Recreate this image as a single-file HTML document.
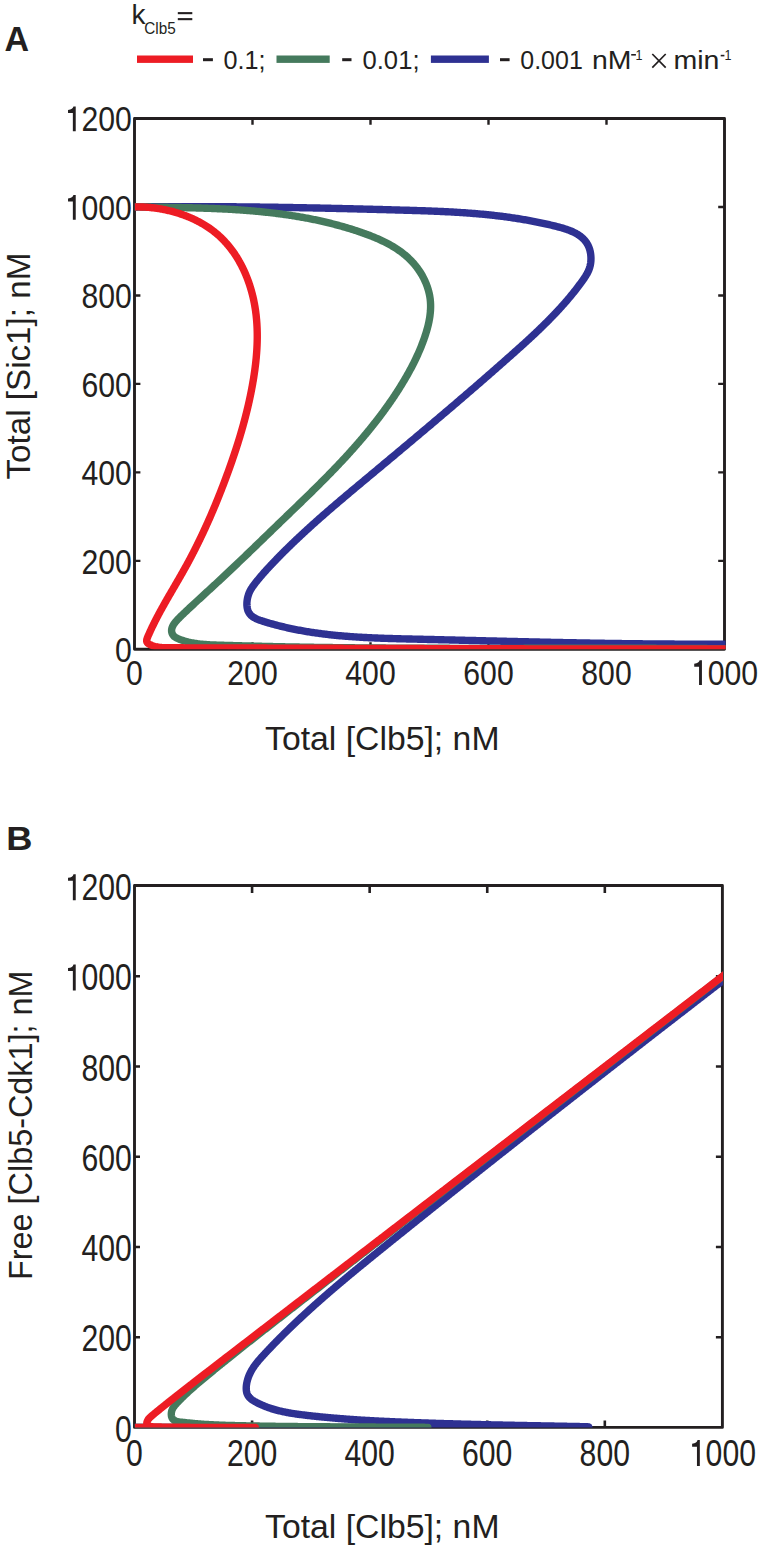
<!DOCTYPE html>
<html><head><meta charset="utf-8"><style>html,body{margin:0;padding:0;background:#fff;}svg{display:block;}</style></head><body>
<svg width="758" height="1547" viewBox="0 0 758 1547">
<rect width="758" height="1547" fill="#fff"/>
<defs><clipPath id="ca"><rect x="134.5" y="118.5" width="591.1" height="530.8"/></clipPath><clipPath id="cb"><rect x="134.5" y="885.5" width="588.5" height="541.9"/></clipPath></defs>
<path d="M134.5 118.5H724.5V649.3H134.5Z" fill="none" stroke="#231f20" stroke-width="2.9" stroke-linejoin="round"/>
<path d="M252.50 118.5v6.3M252.50 649.3v-7M370.50 118.5v6.3M370.50 649.3v-7M488.50 118.5v6.3M488.50 649.3v-7M606.50 118.5v6.3M606.50 649.3v-7M134.5 560.83h5.9M724.5 560.83h-6.3M134.5 472.37h5.9M724.5 472.37h-6.3M134.5 383.90h5.9M724.5 383.90h-6.3M134.5 295.43h5.9M724.5 295.43h-6.3M134.5 206.97h5.9M724.5 206.97h-6.3" stroke="#231f20" stroke-width="2.4" fill="none"/>
<g clip-path="url(#ca)" fill="none" stroke-width="7.4" stroke-linejoin="round">
<path d="M134.54 206.96L135.75 206.94L136.96 206.93L138.17 206.91L139.39 206.90L140.60 206.88L141.81 206.87L143.02 206.86L144.24 206.85L145.45 206.83L146.67 206.82L147.88 206.81L149.10 206.80L150.31 206.79L151.53 206.78L152.74 206.77L153.96 206.76L155.18 206.75L156.39 206.74L157.61 206.73L158.83 206.73L160.05 206.72L161.26 206.71L162.48 206.70L163.70 206.70L164.92 206.69L166.14 206.68L167.36 206.68L168.58 206.67L169.79 206.67L171.01 206.66L172.23 206.66L173.46 206.65L174.68 206.65L175.90 206.64L177.12 206.64L178.34 206.64L179.56 206.63L180.78 206.63L182.00 206.63L183.23 206.63L184.45 206.63L185.67 206.63L186.89 206.62L188.12 206.62L189.34 206.62L190.56 206.62L191.79 206.62L193.01 206.62L194.23 206.63L195.46 206.63L196.68 206.63L197.91 206.63L199.13 206.63L200.36 206.63L201.58 206.64L202.81 206.64L204.03 206.64L205.26 206.65L206.48 206.65L207.71 206.65L208.94 206.66L210.16 206.66L211.39 206.67L212.61 206.67L213.84 206.68L215.07 206.68L216.30 206.69L217.52 206.70L218.75 206.70L219.98 206.71L221.20 206.72L222.43 206.73L223.66 206.73L224.89 206.74L226.12 206.75L227.34 206.76L228.57 206.77L229.80 206.78L231.03 206.78L232.26 206.79L233.49 206.80L234.72 206.81L235.94 206.82L237.17 206.84L238.40 206.85L239.63 206.86L240.86 206.87L242.09 206.88L243.32 206.89L244.55 206.90L245.78 206.92L247.01 206.93L248.24 206.94L249.47 206.95L250.70 206.97L251.93 206.98L253.16 207.00L254.39 207.01L255.62 207.02L256.85 207.04L258.08 207.05L259.31 207.07L260.54 207.08L261.77 207.10L263.00 207.12L264.23 207.13L265.47 207.15L266.70 207.16L267.93 207.18L269.16 207.20L270.39 207.21L271.62 207.23L272.85 207.25L274.08 207.27L275.31 207.29L276.54 207.30L277.77 207.32L279.01 207.34L280.24 207.36L281.47 207.38L282.70 207.40L283.93 207.42L285.16 207.44L286.39 207.46L287.62 207.48L288.85 207.50L290.08 207.52L291.32 207.54L292.55 207.56L293.78 207.58L295.01 207.60L296.24 207.62L297.47 207.65L298.70 207.67L299.93 207.69L301.16 207.71L302.39 207.74L303.63 207.76L304.86 207.78L306.09 207.80L307.32 207.83L308.55 207.85L309.78 207.87L311.01 207.90L312.24 207.92L313.47 207.95L314.70 207.97L315.93 208.00L317.16 208.02L318.39 208.05L319.62 208.07L320.85 208.10L322.08 208.12L323.31 208.15L324.54 208.17L325.77 208.20L327.00 208.23L328.23 208.25L329.46 208.28L330.69 208.31L331.92 208.33L333.15 208.36L334.37 208.39L335.60 208.42L336.83 208.44L338.06 208.47L339.29 208.50L340.52 208.53L341.75 208.56L342.97 208.58L344.20 208.61L345.43 208.64L346.66 208.67L347.89 208.70L349.11 208.73L350.34 208.76L351.57 208.79L352.80 208.82L354.02 208.85L355.25 208.88L356.48 208.91L357.70 208.94L358.93 208.97L360.16 209.00L361.38 209.03L362.61 209.06L363.83 209.09L365.06 209.12L366.28 209.15L367.51 209.18L368.73 209.21L369.96 209.25L371.18 209.28L372.41 209.31L373.63 209.34L374.86 209.37L376.08 209.41L377.31 209.44L378.53 209.47L379.75 209.50L380.98 209.54L382.20 209.57L383.42 209.60L384.64 209.64L385.87 209.67L387.09 209.70L388.31 209.74L389.53 209.77L390.75 209.80L391.97 209.84L393.20 209.87L394.42 209.90L395.64 209.94L396.86 209.97L398.08 210.01L399.30 210.04L400.52 210.08L401.74 210.11L402.96 210.15L404.17 210.18L405.39 210.22L406.61 210.25L407.83 210.29L409.05 210.32L410.27 210.36L411.48 210.39L412.70 210.43L413.92 210.47L415.13 210.51L416.35 210.54L417.57 210.58L418.78 210.62L420.00 210.66L421.22 210.70L422.43 210.74L423.65 210.78L424.86 210.82L426.08 210.87L427.30 210.91L428.51 210.96L429.73 211.00L430.94 211.05L432.16 211.09L433.37 211.14L434.59 211.19L435.80 211.24L437.02 211.29L438.23 211.34L439.44 211.40L440.66 211.45L441.87 211.50L443.09 211.56L444.30 211.62L445.52 211.68L446.73 211.74L447.94 211.80L449.16 211.86L450.37 211.93L451.59 211.99L452.80 212.06L454.02 212.13L455.23 212.20L456.44 212.27L457.66 212.34L458.87 212.42L460.09 212.49L461.30 212.57L462.52 212.65L463.73 212.73L464.95 212.81L466.16 212.90L467.38 212.99L468.59 213.07L469.80 213.16L471.02 213.26L472.24 213.35L473.45 213.45L474.67 213.55L475.88 213.65L477.10 213.75L478.31 213.85L479.53 213.96L480.74 214.07L481.96 214.18L483.18 214.30L484.39 214.41L485.61 214.53L486.83 214.65L488.04 214.77L489.26 214.90L490.48 215.03L491.70 215.16L492.91 215.29L494.13 215.43L495.35 215.56L496.57 215.70L497.79 215.85L499.01 215.99L500.23 216.14L501.44 216.29L502.66 216.45L503.88 216.60L505.10 216.76L506.33 216.93L507.55 217.09L508.77 217.26L509.99 217.43L511.21 217.61L512.43 217.79L513.65 217.97L514.88 218.15L516.10 218.34L517.32 218.53L518.55 218.72L519.77 218.92L520.99 219.12L522.22 219.32L523.44 219.53L524.67 219.74L525.90 219.95L527.12 220.17L528.35 220.39L529.57 220.61L530.80 220.84L532.03 221.07L533.26 221.30L534.49 221.54L535.72 221.78L536.94 222.03L538.17 222.28L539.40 222.53L540.64 222.79L541.87 223.05L543.10 223.31L544.33 223.58L545.56 223.85L546.80 224.13L548.03 224.41L549.26 224.69L550.50 224.98L551.73 225.27L552.97 225.57L554.20 225.87L555.44 226.18L556.67 226.49L557.91 226.81L559.13 227.13L560.36 227.47L561.57 227.81L562.78 228.16L563.98 228.53L565.17 228.91L566.35 229.30L567.52 229.70L568.67 230.13L569.81 230.56L570.93 231.02L572.03 231.49L573.12 231.98L574.18 232.50L575.23 233.03L576.25 233.59L577.25 234.17L578.22 234.77L579.17 235.40L580.09 236.06L580.98 236.74L581.84 237.45L582.67 238.20L583.47 238.97L584.23 239.77L584.96 240.60L585.65 241.47L586.31 242.37L586.92 243.31L587.50 244.28L588.04 245.29L588.53 246.33L588.98 247.42L589.39 248.54L589.75 249.71L590.06 250.90L590.33 252.12L590.55 253.36L590.72 254.63L590.85 255.91L590.93 257.19L590.96 258.49L590.94 259.79L590.87 261.09L590.75 262.38L590.58 263.66L590.36 264.92L590.08 266.17L589.76 267.39L589.38 268.59L588.95 269.76L588.47 270.90L587.95 272.02L587.40 273.11L586.80 274.19L586.18 275.24L585.53 276.29L584.86 277.31L584.17 278.33L583.47 279.34L582.76 280.34L582.05 281.34L581.33 282.34L580.61 283.33L579.88 284.32L579.15 285.30L578.41 286.28L577.67 287.25L576.92 288.23L576.17 289.19L575.42 290.16L574.66 291.12L573.90 292.08L573.14 293.03L572.37 293.99L571.60 294.93L570.82 295.88L570.04 296.82L569.26 297.76L568.47 298.69L567.68 299.62L566.88 300.55L566.09 301.48L565.28 302.40L564.48 303.32L563.67 304.24L562.86 305.15L562.04 306.06L561.23 306.97L560.41 307.87L559.58 308.78L558.75 309.68L557.92 310.57L557.09 311.47L556.25 312.36L555.42 313.25L554.57 314.14L553.73 315.02L552.88 315.90L552.03 316.78L551.18 317.66L550.33 318.53L549.47 319.41L548.61 320.28L547.75 321.15L546.88 322.01L546.02 322.88L545.15 323.74L544.28 324.60L543.40 325.46L542.53 326.31L541.65 327.17L540.77 328.02L539.89 328.87L539.01 329.72L538.12 330.57L537.23 331.41L536.35 332.26L535.46 333.10L534.56 333.94L533.67 334.78L532.77 335.62L531.88 336.46L530.98 337.29L530.08 338.12L529.18 338.96L528.28 339.79L527.37 340.62L526.47 341.45L525.56 342.27L524.66 343.10L523.75 343.93L522.84 344.75L521.93 345.58L521.02 346.40L520.11 347.22L519.20 348.04L518.28 348.86L517.37 349.68L516.46 350.50L515.54 351.32L514.63 352.13L513.71 352.95L512.79 353.77L511.88 354.58L510.96 355.40L510.04 356.21L509.12 357.03L508.21 357.84L507.29 358.65L506.37 359.47L505.45 360.28L504.53 361.09L503.61 361.91L502.69 362.72L501.77 363.53L500.85 364.34L499.93 365.15L499.01 365.96L498.09 366.77L497.17 367.58L496.25 368.39L495.33 369.20L494.41 370.01L493.48 370.81L492.56 371.62L491.64 372.43L490.72 373.24L489.79 374.04L488.87 374.85L487.95 375.65L487.02 376.46L486.10 377.27L485.18 378.07L484.25 378.88L483.33 379.68L482.40 380.48L481.48 381.29L480.55 382.09L479.63 382.89L478.70 383.70L477.78 384.50L476.85 385.30L475.92 386.10L475.00 386.91L474.07 387.71L473.14 388.51L472.22 389.31L471.29 390.11L470.36 390.91L469.43 391.71L468.51 392.51L467.58 393.31L466.65 394.11L465.72 394.91L464.79 395.70L463.86 396.50L462.94 397.30L462.01 398.10L461.08 398.90L460.15 399.69L459.22 400.49L458.29 401.29L457.36 402.08L456.43 402.88L455.50 403.68L454.57 404.47L453.64 405.27L452.70 406.06L451.77 406.86L450.84 407.65L449.91 408.45L448.98 409.24L448.05 410.04L447.11 410.83L446.18 411.62L445.25 412.42L444.32 413.21L443.38 414.00L442.45 414.80L441.52 415.59L440.58 416.38L439.65 417.17L438.72 417.97L437.78 418.76L436.85 419.55L435.91 420.34L434.98 421.13L434.05 421.92L433.11 422.72L432.18 423.51L431.24 424.30L430.31 425.09L429.37 425.88L428.44 426.67L427.50 427.46L426.56 428.25L425.63 429.04L424.69 429.83L423.76 430.62L422.82 431.41L421.88 432.20L420.95 432.98L420.01 433.77L419.07 434.56L418.14 435.35L417.20 436.14L416.26 436.93L415.33 437.72L414.39 438.50L413.45 439.29L412.51 440.08L411.57 440.87L410.64 441.66L409.70 442.44L408.76 443.23L407.82 444.02L406.88 444.81L405.94 445.59L405.01 446.38L404.07 447.17L403.13 447.95L402.19 448.74L401.25 449.53L400.31 450.31L399.37 451.10L398.43 451.89L397.49 452.67L396.55 453.46L395.61 454.25L394.67 455.03L393.73 455.82L392.79 456.60L391.85 457.39L390.91 458.18L389.97 458.96L389.03 459.75L388.09 460.53L387.15 461.32L386.21 462.10L385.27 462.89L384.32 463.68L383.38 464.46L382.44 465.25L381.50 466.03L380.56 466.82L379.62 467.60L378.68 468.39L377.73 469.17L376.79 469.96L375.85 470.74L374.91 471.53L373.97 472.32L373.02 473.10L372.08 473.89L371.14 474.67L370.20 475.46L369.26 476.24L368.31 477.03L367.37 477.81L366.43 478.60L365.49 479.38L364.54 480.17L363.60 480.96L362.66 481.74L361.72 482.53L360.77 483.31L359.83 484.10L358.89 484.89L357.95 485.67L357.01 486.46L356.06 487.25L355.12 488.04L354.18 488.82L353.24 489.61L352.30 490.40L351.36 491.19L350.42 491.98L349.48 492.77L348.54 493.56L347.60 494.35L346.67 495.14L345.73 495.93L344.79 496.72L343.85 497.52L342.92 498.31L341.98 499.10L341.04 499.90L340.11 500.69L339.18 501.49L338.24 502.28L337.31 503.08L336.37 503.87L335.44 504.67L334.51 505.47L333.58 506.27L332.65 507.07L331.72 507.87L330.79 508.67L329.86 509.47L328.93 510.27L328.01 511.08L327.08 511.88L326.16 512.68L325.23 513.49L324.31 514.30L323.39 515.10L322.46 515.91L321.54 516.72L320.62 517.53L319.71 518.34L318.79 519.15L317.87 519.97L316.95 520.78L316.04 521.59L315.12 522.41L314.21 523.23L313.30 524.04L312.39 524.86L311.48 525.68L310.57 526.50L309.66 527.33L308.76 528.15L307.85 528.97L306.95 529.80L306.04 530.63L305.14 531.46L304.24 532.28L303.34 533.12L302.45 533.95L301.55 534.78L300.65 535.61L299.76 536.45L298.87 537.29L297.98 538.13L297.09 538.97L296.20 539.81L295.31 540.65L294.43 541.49L293.54 542.34L292.66 543.19L291.78 544.03L290.90 544.88L290.02 545.73L289.15 546.59L288.27 547.44L287.40 548.30L286.53 549.16L285.66 550.01L284.79 550.87L283.92 551.74L283.06 552.60L282.20 553.47L281.33 554.33L280.47 555.20L279.62 556.07L278.76 556.95L277.91 557.82L277.05 558.70L276.20 559.57L275.36 560.45L274.51 561.33L273.66 562.22L272.82 563.10L271.98 563.99L271.14 564.88L270.30 565.77L269.47 566.66L268.64 567.56L267.81 568.45L266.98 569.35L266.16 570.26L265.34 571.16L264.52 572.07L263.71 572.98L262.91 573.90L262.11 574.82L261.31 575.74L260.52 576.67L259.73 577.60L258.95 578.53L258.18 579.47L257.41 580.42L256.65 581.37L255.90 582.32L255.16 583.28L254.42 584.25L253.69 585.22L252.97 586.20L252.27 587.20L251.59 588.22L250.94 589.28L250.33 590.37L249.75 591.51L249.22 592.69L248.74 593.93L248.31 595.19L247.93 596.49L247.60 597.81L247.34 599.15L247.13 600.49L246.98 601.83L246.90 603.16L246.88 604.47L246.94 605.76L247.06 607.02L247.26 608.24L247.54 609.42L247.89 610.54L248.32 611.60L248.84 612.59L249.44 613.51L250.11 614.36L250.85 615.16L251.66 615.89L252.53 616.58L253.45 617.21L254.43 617.80L255.45 618.35L256.51 618.86L257.60 619.34L258.72 619.79L259.87 620.22L261.04 620.62L262.22 621.01L263.41 621.39L264.60 621.76L265.80 622.12L266.99 622.48L268.19 622.83L269.38 623.18L270.58 623.52L271.78 623.86L272.97 624.19L274.17 624.52L275.37 624.84L276.57 625.15L277.77 625.46L278.97 625.77L280.17 626.07L281.37 626.37L282.58 626.66L283.78 626.94L284.98 627.23L286.18 627.50L287.39 627.78L288.59 628.04L289.80 628.31L291.00 628.56L292.21 628.82L293.41 629.07L294.62 629.31L295.82 629.55L297.03 629.79L298.24 630.02L299.45 630.25L300.65 630.47L301.86 630.69L303.07 630.91L304.28 631.12L305.49 631.33L306.70 631.53L307.91 631.73L309.12 631.93L310.34 632.12L311.55 632.31L312.76 632.49L313.97 632.67L315.18 632.85L316.40 633.02L317.61 633.19L318.83 633.36L320.04 633.52L321.25 633.68L322.47 633.84L323.68 633.99L324.90 634.14L326.12 634.29L327.33 634.43L328.55 634.57L329.76 634.70L330.98 634.84L332.20 634.97L333.42 635.10L334.63 635.22L335.85 635.34L337.07 635.46L338.29 635.58L339.51 635.69L340.73 635.80L341.95 635.91L343.17 636.01L344.39 636.12L345.61 636.22L346.83 636.31L348.05 636.41L349.27 636.50L350.49 636.59L351.71 636.68L352.93 636.77L354.15 636.85L355.38 636.93L356.60 637.01L357.82 637.09L359.04 637.16L360.27 637.23L361.49 637.30L362.71 637.37L363.93 637.44L365.16 637.51L366.38 637.57L367.61 637.63L368.83 637.69L370.05 637.75L371.28 637.81L372.50 637.86L373.73 637.92L374.95 637.97L376.18 638.02L377.40 638.07L378.62 638.12L379.85 638.16L381.07 638.21L382.30 638.25L383.53 638.29L384.75 638.34L385.98 638.38L387.20 638.42L388.43 638.46L389.65 638.49L390.88 638.53L392.11 638.57L393.33 638.60L394.56 638.64L395.78 638.67L397.01 638.70L398.24 638.74L399.46 638.77L400.69 638.80L401.91 638.83L403.14 638.86L404.37 638.89L405.59 638.92L406.82 638.95L408.05 638.98L409.27 639.01L410.50 639.03L411.72 639.06L412.95 639.09L414.18 639.12L415.40 639.15L416.63 639.17L417.86 639.20L419.08 639.23L420.31 639.26L421.53 639.29L422.76 639.32L423.99 639.34L425.21 639.37L426.44 639.40L427.67 639.43L428.89 639.46L430.12 639.49L431.34 639.52L432.57 639.55L433.80 639.57L435.02 639.60L436.25 639.63L437.47 639.66L438.70 639.69L439.92 639.72L441.15 639.75L442.38 639.78L443.60 639.81L444.83 639.84L446.05 639.87L447.28 639.89L448.50 639.92L449.73 639.95L450.96 639.98L452.18 640.01L453.41 640.04L454.63 640.07L455.86 640.10L457.08 640.13L458.31 640.16L459.53 640.19L460.76 640.22L461.98 640.25L463.21 640.28L464.44 640.31L465.66 640.34L466.89 640.37L468.11 640.40L469.34 640.43L470.56 640.46L471.79 640.49L473.01 640.51L474.24 640.54L475.46 640.57L476.69 640.60L477.91 640.63L479.14 640.66L480.36 640.69L481.59 640.72L482.81 640.75L484.04 640.78L485.26 640.81L486.49 640.84L487.71 640.87L488.94 640.90L490.16 640.93L491.39 640.96L492.61 640.99L493.84 641.02L495.06 641.05L496.29 641.07L497.51 641.10L498.74 641.13L499.96 641.16L501.19 641.19L502.41 641.22L503.64 641.25L504.86 641.28L506.09 641.31L507.31 641.34L508.54 641.36L509.76 641.39L510.99 641.42L512.21 641.45L513.44 641.48L514.66 641.51L515.89 641.54L517.11 641.56L518.34 641.59L519.56 641.62L520.79 641.65L522.01 641.68L523.24 641.70L524.46 641.73L525.69 641.76L526.91 641.79L528.13 641.82L529.36 641.84L530.58 641.87L531.81 641.90L533.03 641.93L534.26 641.95L535.48 641.98L536.71 642.01L537.93 642.03L539.16 642.06L540.38 642.09L541.61 642.12L542.83 642.14L544.06 642.17L545.28 642.20L546.51 642.22L547.73 642.25L548.95 642.27L550.18 642.30L551.40 642.33L552.63 642.35L553.85 642.38L555.08 642.40L556.30 642.43L557.53 642.45L558.75 642.48L559.98 642.50L561.20 642.53L562.43 642.55L563.65 642.58L564.88 642.60L566.10 642.63L567.32 642.65L568.55 642.68L569.77 642.70L571.00 642.72L572.22 642.75L573.45 642.77L574.67 642.79L575.90 642.82L577.12 642.84L578.35 642.86L579.57 642.89L580.80 642.91L582.02 642.93L583.25 642.95L584.47 642.98L585.69 643.00L586.92 643.02L588.14 643.04L589.37 643.06L590.59 643.09L591.82 643.11L593.04 643.13L594.27 643.15L595.49 643.17L596.72 643.19L597.94 643.21L599.17 643.23L600.39 643.25L601.62 643.27L602.84 643.29L604.07 643.31L605.29 643.33L606.52 643.35L607.74 643.37L608.97 643.39L610.19 643.41L611.42 643.43L612.64 643.44L613.87 643.46L615.09 643.48L616.32 643.50L617.54 643.51L618.77 643.53L619.99 643.55L621.22 643.57L622.44 643.58L623.67 643.60L624.89 643.62L626.12 643.63L627.34 643.65L628.57 643.66L629.79 643.68L631.02 643.69L632.24 643.71L633.47 643.72L634.69 643.74L635.92 643.75L637.14 643.77L638.37 643.78L639.59 643.79L640.82 643.81L642.04 643.82L643.27 643.83L644.49 643.85L645.72 643.86L646.94 643.87L648.17 643.88L649.39 643.89L650.62 643.91L651.85 643.92L653.07 643.93L654.30 643.94L655.52 643.95L656.75 643.96L657.97 643.97L659.20 643.98L660.42 643.99L661.65 644.00L662.87 644.01L664.10 644.01L665.33 644.02L666.55 644.03L667.78 644.04L669.00 644.05L670.23 644.05L671.45 644.06L672.68 644.07L673.91 644.07L675.13 644.08L676.36 644.09L677.58 644.09L678.81 644.10L680.04 644.10L681.26 644.11L682.49 644.11L683.71 644.12L684.94 644.12L686.17 644.12L687.39 644.13L688.62 644.13L689.84 644.13L691.07 644.13L692.30 644.14L693.52 644.14L694.75 644.14L695.97 644.14L697.20 644.14L698.43 644.14L699.65 644.14L700.88 644.14L702.11 644.14L703.33 644.14L704.56 644.14L705.79 644.14L707.01 644.14L708.24 644.14L709.47 644.13L710.69 644.13L711.92 644.13L713.14 644.13L714.37 644.12L715.60 644.12L716.83 644.11L718.05 644.11L719.28 644.10L720.51 644.10L721.73 644.09L722.96 644.09L724.19 644.08L725.41 644.08L726.64 644.07L727.87 644.06L729.09 644.05L730.32 644.05L731.55 644.04L732.78 644.03L734.00 644.02L735.23 644.01L736.46 644.00" stroke="#2e3192"/>
<path d="M134.48 206.79L135.58 206.81L136.69 206.83L137.79 206.85L138.90 206.87L140.00 206.89L141.11 206.91L142.21 206.93L143.32 206.94L144.42 206.96L145.53 206.98L146.63 207.00L147.74 207.01L148.84 207.03L149.95 207.05L151.05 207.06L152.16 207.08L153.27 207.10L154.37 207.11L155.48 207.13L156.58 207.15L157.69 207.16L158.80 207.18L159.90 207.20L161.01 207.22L162.12 207.23L163.22 207.25L164.33 207.27L165.44 207.29L166.54 207.30L167.65 207.32L168.76 207.34L169.86 207.36L170.97 207.38L172.08 207.40L173.18 207.42L174.29 207.44L175.40 207.46L176.50 207.48L177.61 207.50L178.72 207.52L179.83 207.54L180.93 207.57L182.04 207.59L183.15 207.61L184.25 207.64L185.36 207.66L186.47 207.69L187.57 207.71L188.68 207.74L189.79 207.77L190.89 207.79L192.00 207.82L193.11 207.85L194.22 207.88L195.32 207.91L196.43 207.94L197.53 207.97L198.64 208.00L199.75 208.04L200.85 208.07L201.96 208.11L203.07 208.14L204.17 208.18L205.28 208.22L206.39 208.25L207.49 208.29L208.60 208.33L209.70 208.38L210.81 208.42L211.91 208.46L213.02 208.50L214.13 208.55L215.23 208.60L216.34 208.64L217.44 208.69L218.55 208.74L219.65 208.79L220.76 208.84L221.86 208.90L222.96 208.95L224.07 209.01L225.17 209.06L226.28 209.12L227.38 209.18L228.48 209.24L229.59 209.30L230.69 209.37L231.79 209.43L232.90 209.50L234.00 209.56L235.10 209.63L236.21 209.70L237.31 209.77L238.41 209.85L239.51 209.92L240.61 210.00L241.72 210.07L242.82 210.15L243.92 210.23L245.02 210.32L246.12 210.40L247.22 210.49L248.32 210.57L249.42 210.66L250.52 210.75L251.62 210.84L252.72 210.94L253.82 211.03L254.92 211.13L256.02 211.23L257.12 211.33L258.21 211.43L259.31 211.54L260.41 211.64L261.51 211.75L262.60 211.86L263.70 211.97L264.80 212.09L265.89 212.20L266.99 212.32L268.09 212.44L269.18 212.56L270.28 212.69L271.37 212.81L272.47 212.94L273.56 213.07L274.66 213.20L275.75 213.34L276.84 213.47L277.94 213.61L279.03 213.75L280.12 213.89L281.21 214.04L282.31 214.19L283.40 214.34L284.49 214.49L285.58 214.64L286.67 214.80L287.76 214.96L288.85 215.12L289.94 215.28L291.03 215.45L292.12 215.62L293.21 215.79L294.29 215.96L295.38 216.14L296.47 216.31L297.56 216.50L298.64 216.68L299.73 216.86L300.82 217.05L301.90 217.24L302.99 217.44L304.07 217.63L305.15 217.83L306.24 218.03L307.32 218.24L308.40 218.44L309.49 218.65L310.57 218.87L311.65 219.08L312.73 219.30L313.81 219.52L314.89 219.74L315.97 219.97L317.05 220.20L318.13 220.43L319.21 220.67L320.29 220.90L321.37 221.14L322.45 221.39L323.52 221.63L324.60 221.88L325.67 222.14L326.75 222.39L327.82 222.65L328.90 222.91L329.97 223.18L331.05 223.45L332.12 223.72L333.19 223.99L334.26 224.27L335.34 224.55L336.41 224.83L337.48 225.12L338.55 225.41L339.62 225.70L340.69 226.00L341.76 226.30L342.82 226.60L343.89 226.91L344.96 227.22L346.02 227.54L347.09 227.85L348.16 228.17L349.22 228.50L350.28 228.82L351.35 229.15L352.41 229.49L353.47 229.83L354.54 230.17L355.60 230.51L356.66 230.86L357.72 231.21L358.78 231.57L359.84 231.93L360.89 232.29L361.95 232.66L363.01 233.03L364.07 233.40L365.12 233.78L366.17 234.17L367.22 234.55L368.27 234.95L369.32 235.34L370.37 235.75L371.41 236.15L372.45 236.57L373.49 236.99L374.52 237.41L375.55 237.84L376.58 238.28L377.60 238.72L378.62 239.17L379.64 239.62L380.65 240.09L381.66 240.56L382.66 241.03L383.66 241.51L384.66 242.00L385.65 242.50L386.63 243.01L387.61 243.52L388.58 244.04L389.55 244.57L390.51 245.11L391.46 245.65L392.41 246.21L393.36 246.77L394.29 247.34L395.22 247.92L396.14 248.51L397.06 249.11L397.96 249.72L398.86 250.34L399.75 250.97L400.64 251.61L401.51 252.26L402.38 252.92L403.24 253.59L404.09 254.27L404.93 254.96L405.76 255.66L406.58 256.37L407.39 257.10L408.19 257.83L408.99 258.58L409.77 259.34L410.54 260.11L411.31 260.89L412.06 261.69L412.80 262.49L413.53 263.31L414.25 264.14L414.95 264.99L415.65 265.84L416.33 266.71L417.00 267.59L417.66 268.48L418.31 269.38L418.94 270.29L419.56 271.20L420.16 272.13L420.75 273.07L421.33 274.02L421.89 274.98L422.44 275.94L422.97 276.91L423.48 277.90L423.98 278.88L424.47 279.88L424.94 280.89L425.39 281.90L425.82 282.91L426.24 283.94L426.64 284.97L427.02 286.01L427.39 287.05L427.73 288.10L428.06 289.15L428.37 290.21L428.66 291.27L428.93 292.33L429.18 293.40L429.42 294.48L429.63 295.56L429.82 296.64L429.99 297.72L430.14 298.81L430.27 299.90L430.37 300.99L430.46 302.08L430.52 303.18L430.57 304.27L430.59 305.37L430.60 306.47L430.59 307.57L430.55 308.67L430.50 309.78L430.44 310.88L430.35 311.98L430.25 313.09L430.13 314.19L430.00 315.29L429.85 316.40L429.69 317.50L429.51 318.60L429.32 319.70L429.11 320.81L428.89 321.91L428.66 323.00L428.41 324.10L428.16 325.20L427.89 326.29L427.61 327.38L427.32 328.47L427.02 329.56L426.71 330.64L426.39 331.73L426.07 332.81L425.73 333.88L425.39 334.96L425.03 336.03L424.68 337.09L424.31 338.15L423.94 339.21L423.56 340.27L423.18 341.32L422.79 342.37L422.39 343.41L421.99 344.45L421.59 345.48L421.18 346.52L420.76 347.54L420.34 348.57L419.92 349.59L419.49 350.61L419.05 351.62L418.61 352.63L418.17 353.64L417.72 354.64L417.26 355.65L416.80 356.64L416.34 357.64L415.87 358.63L415.39 359.62L414.92 360.61L414.43 361.59L413.95 362.57L413.46 363.55L412.96 364.53L412.46 365.50L411.96 366.47L411.45 367.44L410.94 368.40L410.42 369.37L409.90 370.33L409.38 371.29L408.85 372.25L408.32 373.20L407.79 374.16L407.25 375.11L406.71 376.06L406.16 377.01L405.61 377.96L405.06 378.90L404.50 379.85L403.94 380.79L403.38 381.73L402.82 382.67L402.25 383.61L401.68 384.54L401.10 385.48L400.52 386.41L399.94 387.35L399.36 388.28L398.77 389.21L398.18 390.13L397.58 391.06L396.99 391.98L396.39 392.91L395.78 393.83L395.18 394.75L394.57 395.67L393.96 396.59L393.34 397.50L392.73 398.42L392.11 399.33L391.48 400.24L390.86 401.15L390.23 402.06L389.60 402.96L388.97 403.87L388.33 404.77L387.69 405.68L387.05 406.58L386.41 407.48L385.76 408.37L385.11 409.27L384.46 410.17L383.81 411.06L383.15 411.95L382.49 412.84L381.83 413.73L381.17 414.62L380.50 415.51L379.83 416.39L379.16 417.27L378.49 418.16L377.81 419.04L377.14 419.91L376.46 420.79L375.77 421.67L375.09 422.54L374.40 423.41L373.72 424.29L373.03 425.16L372.34 426.02L371.64 426.89L370.95 427.76L370.25 428.62L369.55 429.48L368.85 430.34L368.14 431.20L367.44 432.06L366.73 432.92L366.02 433.77L365.31 434.63L364.60 435.48L363.88 436.33L363.17 437.18L362.45 438.03L361.73 438.87L361.01 439.72L360.29 440.56L359.56 441.41L358.84 442.25L358.11 443.09L357.38 443.92L356.65 444.76L355.92 445.59L355.19 446.43L354.45 447.26L353.72 448.09L352.98 448.92L352.24 449.75L351.50 450.57L350.76 451.40L350.02 452.22L349.27 453.04L348.53 453.86L347.78 454.68L347.04 455.50L346.29 456.31L345.54 457.13L344.79 457.94L344.04 458.75L343.29 459.56L342.54 460.37L341.78 461.18L341.03 461.98L340.27 462.78L339.51 463.59L338.76 464.39L338.00 465.19L337.24 465.99L336.48 466.78L335.72 467.58L334.96 468.37L334.19 469.17L333.43 469.96L332.67 470.75L331.90 471.54L331.14 472.33L330.37 473.12L329.60 473.90L328.83 474.69L328.07 475.47L327.30 476.26L326.53 477.04L325.75 477.82L324.98 478.60L324.21 479.38L323.44 480.16L322.66 480.94L321.89 481.71L321.11 482.49L320.34 483.27L319.56 484.04L318.78 484.81L318.01 485.59L317.23 486.36L316.45 487.13L315.67 487.90L314.89 488.67L314.11 489.45L313.32 490.22L312.54 490.98L311.76 491.75L310.98 492.52L310.19 493.29L309.41 494.06L308.62 494.83L307.83 495.59L307.05 496.36L306.26 497.13L305.47 497.89L304.69 498.66L303.90 499.42L303.11 500.19L302.32 500.96L301.53 501.72L300.74 502.49L299.95 503.25L299.16 504.02L298.36 504.78L297.57 505.55L296.78 506.31L295.98 507.08L295.19 507.84L294.40 508.61L293.60 509.38L292.81 510.14L292.01 510.91L291.22 511.68L290.42 512.44L289.62 513.21L288.83 513.98L288.03 514.75L287.23 515.51L286.43 516.28L285.63 517.05L284.83 517.82L284.04 518.59L283.24 519.36L282.44 520.13L281.64 520.91L280.84 521.68L280.04 522.45L279.23 523.22L278.43 524.00L277.63 524.77L276.83 525.55L276.03 526.32L275.23 527.10L274.42 527.87L273.62 528.65L272.82 529.43L272.02 530.20L271.21 530.98L270.41 531.76L269.61 532.53L268.80 533.31L268.00 534.09L267.20 534.87L266.39 535.64L265.59 536.42L264.78 537.20L263.98 537.98L263.18 538.75L262.37 539.53L261.57 540.31L260.76 541.08L259.96 541.86L259.15 542.64L258.35 543.42L257.55 544.19L256.74 544.97L255.94 545.74L255.13 546.52L254.33 547.30L253.53 548.07L252.72 548.85L251.92 549.62L251.11 550.39L250.31 551.17L249.51 551.94L248.70 552.71L247.90 553.48L247.10 554.26L246.29 555.03L245.49 555.80L244.69 556.57L243.89 557.33L243.08 558.10L242.28 558.87L241.48 559.64L240.68 560.40L239.88 561.17L239.08 561.93L238.28 562.70L237.48 563.46L236.68 564.22L235.88 564.98L235.08 565.74L234.28 566.50L233.48 567.26L232.68 568.01L231.88 568.77L231.09 569.52L230.29 570.28L229.49 571.03L228.69 571.78L227.90 572.53L227.10 573.28L226.31 574.03L225.51 574.78L224.72 575.52L223.92 576.27L223.13 577.01L222.34 577.75L221.55 578.49L220.75 579.23L219.96 579.96L219.17 580.70L218.38 581.43L217.59 582.17L216.80 582.90L216.01 583.63L215.23 584.36L214.44 585.08L213.65 585.81L212.86 586.53L212.08 587.25L211.29 587.98L210.50 588.70L209.72 589.42L208.93 590.14L208.14 590.87L207.35 591.59L206.56 592.31L205.77 593.04L204.97 593.76L204.18 594.49L203.39 595.22L202.59 595.95L201.79 596.68L200.99 597.42L200.19 598.16L199.38 598.90L198.57 599.64L197.76 600.39L196.95 601.13L196.14 601.89L195.32 602.64L194.50 603.40L193.67 604.17L192.84 604.94L192.01 605.71L191.18 606.49L190.34 607.27L189.50 608.06L188.65 608.86L187.80 609.66L186.95 610.46L186.09 611.27L185.22 612.09L184.35 612.92L183.48 613.75L182.60 614.59L181.72 615.43L180.83 616.28L179.95 617.14L179.08 618.01L178.23 618.88L177.39 619.76L176.59 620.64L175.83 621.53L175.11 622.42L174.43 623.31L173.81 624.21L173.26 625.12L172.77 626.02L172.36 626.93L172.02 627.84L171.78 628.75L171.63 629.67L171.58 630.58L171.64 631.49L171.81 632.41L172.09 633.31L172.48 634.18L172.98 635.01L173.58 635.79L174.30 636.50L175.11 637.14L176.02 637.70L176.99 638.20L178.01 638.65L179.04 639.07L180.07 639.48L181.11 639.86L182.15 640.23L183.20 640.58L184.25 640.91L185.30 641.22L186.36 641.51L187.42 641.79L188.48 642.06L189.55 642.30L190.62 642.54L191.69 642.76L192.77 642.96L193.85 643.15L194.93 643.33L196.01 643.50L197.10 643.66L198.19 643.80L199.28 643.94L200.37 644.06L201.47 644.18L202.56 644.28L203.66 644.38L204.76 644.47L205.86 644.55L206.97 644.63L208.07 644.70L209.18 644.76L210.28 644.82L211.39 644.88L212.50 644.92L213.61 644.97L214.72 645.01L215.83 645.05L216.94 645.09L218.05 645.13L219.16 645.16L220.27 645.20L221.38 645.23L222.49 645.26L223.60 645.30L224.71 645.33L225.82 645.37L226.93 645.40L228.04 645.43L229.15 645.46L230.26 645.50L231.37 645.53L232.48 645.56L233.59 645.59L234.70 645.62L235.81 645.65L236.92 645.69L238.03 645.72L239.14 645.75L240.25 645.78L241.36 645.81L242.47 645.84L243.58 645.87L244.69 645.90L245.80 645.92L246.91 645.95L248.02 645.98L249.12 646.01L250.23 646.04L251.34 646.07L252.45 646.10L253.56 646.12L254.67 646.15L255.78 646.18L256.89 646.20L258.00 646.23L259.11 646.26L260.22 646.28L261.32 646.31L262.43 646.34L263.54 646.36L264.65 646.39L265.76 646.41L266.87 646.44L267.98 646.46L269.08 646.49L270.19 646.51L271.30 646.53L272.41 646.56L273.52 646.58L274.63 646.61L275.73 646.63L276.84 646.65L277.95 646.68L279.06 646.70L280.17 646.72L281.27 646.74L282.38 646.77L283.49 646.79L284.60 646.81L285.71 646.83L286.81 646.85L287.92 646.87L289.03 646.89L290.14 646.91L291.24 646.94L292.35 646.96L293.46 646.98L294.57 647.00L295.67 647.02L296.78 647.04L297.89 647.05L299.00 647.07L300.10 647.09L301.21 647.11L302.32 647.13L303.43 647.15L304.53 647.17L305.64 647.19L306.75 647.20L307.85 647.22L308.96 647.24L310.07 647.26L311.17 647.27L312.28 647.29L313.39 647.31L314.50 647.33L315.60 647.34L316.71 647.36L317.82 647.37L318.92 647.39L320.03 647.41L321.14 647.42L322.24 647.44L323.35 647.45L324.46 647.47L325.56 647.48L326.67 647.50L327.77 647.51L328.88 647.53L329.99 647.54L331.09 647.56L332.20 647.57L333.31 647.58L334.41 647.60L335.52 647.61L336.62 647.63L337.73 647.64L338.84 647.65L339.94 647.66L341.05 647.68L342.16 647.69L343.26 647.70L344.37 647.72L345.47 647.73L346.58 647.74L347.68 647.75L348.79 647.76L349.90 647.77L351.00 647.79L352.11 647.80L353.21 647.81L354.32 647.82L355.42 647.83L356.53 647.84L357.64 647.85L358.74 647.86L359.85 647.87L360.95 647.88L362.06 647.89L363.16 647.90L364.27 647.91L365.37 647.92L366.48 647.93L367.59 647.94L368.69 647.95L369.80 647.96L370.90 647.97L372.01 647.98L373.11 647.99L374.22 648.00L375.32 648.00L376.43 648.01L377.53 648.02L378.64 648.03L379.74 648.04L380.85 648.04L381.95 648.05L383.06 648.06L384.16 648.07L385.27 648.07L386.37 648.08L387.48 648.09L388.58 648.10L389.69 648.10L390.79 648.11L391.90 648.12L393.00 648.12L394.11 648.13L395.21 648.14L396.32 648.14L397.42 648.15L398.53 648.15L399.63 648.16L400.74 648.17L401.84 648.17L402.95 648.18L404.05 648.18L405.15 648.19L406.26 648.19L407.36 648.20L408.47 648.20L409.57 648.21L410.68 648.21L411.78 648.22L412.89 648.22L413.99 648.23L415.10 648.23L416.20 648.24L417.30 648.24L418.41 648.24L419.51 648.25L420.62 648.25L421.72 648.26L422.83 648.26L423.93 648.26L425.04 648.27L426.14 648.27L427.24 648.27L428.35 648.28L429.45 648.28L430.56 648.28L431.66 648.29L432.77 648.29L433.87 648.29L434.97 648.29L436.08 648.30L437.18 648.30L438.29 648.30L439.39 648.31L440.49 648.31L441.60 648.31L442.70 648.31L443.81 648.31L444.91 648.32L446.02 648.32L447.12 648.32L448.22 648.32L449.33 648.32L450.43 648.33L451.54 648.33L452.64 648.33L453.74 648.33L454.85 648.33L455.95 648.33L457.06 648.34L458.16 648.34L459.26 648.34L460.37 648.34L461.47 648.34L462.58 648.34L463.68 648.34L464.78 648.34L465.89 648.34L466.99 648.34L468.10 648.35L469.20 648.35L470.30 648.35L471.41 648.35L472.51 648.35L473.62 648.35L474.72 648.35L475.82 648.35L476.93 648.35L478.03 648.35L479.13 648.35L480.24 648.35L481.34 648.35L482.45 648.35L483.55 648.35L484.65 648.35L485.76 648.35L486.86 648.35L487.97 648.35L489.07 648.35L490.17 648.35L491.28 648.35L492.38 648.35L493.49 648.35L494.59 648.35L495.69 648.35L496.80 648.35L497.90 648.35L499.00 648.35L500.11 648.34L501.21 648.34L502.32 648.34L503.42 648.34L504.52 648.34L505.63 648.34L506.73 648.34L507.84 648.34L508.94 648.34L510.04 648.34L511.15 648.34L512.25 648.34L513.35 648.34L514.46 648.33L515.56 648.33L516.67 648.33L517.77 648.33L518.87 648.33L519.98 648.33L521.08 648.33L522.19 648.33L523.29 648.33L524.39 648.32L525.50 648.32L526.60 648.32L527.71 648.32L528.81 648.32L529.91 648.32L531.02 648.32L532.12 648.32L533.23 648.32L534.33 648.31L535.43 648.31L536.54 648.31L537.64 648.31L538.75 648.31L539.85 648.31L540.95 648.31L542.06 648.31L543.16 648.30L544.27 648.30L545.37 648.30L546.47 648.30L547.58 648.30L548.68 648.30L549.79 648.30L550.89 648.30L551.99 648.29L553.10 648.29L554.20 648.29L555.31 648.29L556.41 648.29L557.51 648.29L558.62 648.29L559.72 648.29L560.83 648.28L561.93 648.28L563.04 648.28L564.14 648.28L565.24 648.28L566.35 648.28L567.45 648.28L568.56 648.28L569.66 648.28L570.77 648.28L571.87 648.27L572.97 648.27L574.08 648.27L575.18 648.27L576.29 648.27L577.39 648.27L578.50 648.27L579.60 648.27L580.70 648.27L581.81 648.27L582.91 648.27L584.02 648.26L585.12 648.26L586.23 648.26L587.33 648.26L588.44 648.26L589.54 648.26L590.64 648.26L591.75 648.26L592.85 648.26L593.96 648.26L595.06 648.26L596.17 648.26L597.27 648.26L598.38 648.26L599.48 648.26L600.59 648.26L601.69 648.26L602.80 648.26L603.90 648.26L605.01 648.26L606.11 648.26L607.22 648.26L608.32 648.26L609.43 648.26L610.53 648.26L611.64 648.26L612.74 648.26L613.85 648.26L614.95 648.26L616.06 648.26L617.16 648.26L618.27 648.26L619.37 648.26L620.48 648.26L621.58 648.27L622.69 648.27L623.79 648.27L624.90 648.27L626.00 648.27L627.11 648.27L628.21 648.27L629.32 648.27L630.42 648.27L631.53 648.28L632.63 648.28L633.74 648.28L634.84 648.28L635.95 648.28L637.06 648.28L638.16 648.29L639.27 648.29L640.37 648.29L641.48 648.29L642.58 648.29L643.69 648.30L644.79 648.30L645.90 648.30L647.01 648.30L648.11 648.30L649.22 648.31L650.32 648.31L651.43 648.31L652.54 648.32L653.64 648.32L654.75 648.32L655.85 648.32L656.96 648.33L658.06 648.33L659.17 648.33L660.28 648.34L661.38 648.34L662.49 648.34L663.60 648.35L664.70 648.35L665.81 648.36L666.91 648.36L668.02 648.36L669.13 648.37L670.23 648.37L671.34 648.38L672.45 648.38L673.55 648.39L674.66 648.39L675.77 648.39L676.87 648.40L677.98 648.40L679.09 648.41L680.19 648.41L681.30 648.42L682.41 648.43L683.51 648.43L684.62 648.44L685.73 648.44L686.83 648.45L687.94 648.45L689.05 648.46L690.15 648.47L691.26 648.47L692.37 648.48L693.47 648.48L694.58 648.49L695.69 648.50L696.80 648.50L697.90 648.51L699.01 648.52L700.12 648.53L701.23 648.53L702.33 648.54L703.44 648.55L704.55 648.56L705.66 648.56L706.76 648.57L707.87 648.58L708.98 648.59L710.09 648.59L711.19 648.60L712.30 648.61L713.41 648.62L714.52 648.63L715.62 648.64L716.73 648.65L717.84 648.66L718.95 648.67L720.06 648.67L721.16 648.68L722.27 648.69L723.38 648.70L724.49 648.71L725.60 648.72L726.71 648.73L727.81 648.74L728.92 648.75L730.03 648.77" stroke="#457a5d"/>
<path d="M134.78 206.93L135.66 206.92L136.54 206.91L137.42 206.90L138.31 206.91L139.20 206.91L140.09 206.93L140.98 206.95L141.88 206.98L142.78 207.01L143.68 207.05L144.58 207.10L145.49 207.15L146.40 207.21L147.31 207.28L148.22 207.35L149.13 207.43L150.04 207.51L150.96 207.60L151.87 207.70L152.79 207.80L153.71 207.91L154.63 208.03L155.55 208.15L156.47 208.28L157.39 208.41L158.31 208.55L159.23 208.70L160.15 208.85L161.08 209.01L162.00 209.18L162.92 209.35L163.84 209.53L164.77 209.72L165.69 209.91L166.61 210.11L167.53 210.31L168.45 210.53L169.37 210.74L170.29 210.97L171.20 211.20L172.12 211.44L173.04 211.68L173.95 211.93L174.86 212.19L175.77 212.45L176.68 212.72L177.59 213.00L178.50 213.28L179.40 213.57L180.30 213.87L181.20 214.17L182.10 214.48L182.99 214.79L183.89 215.12L184.78 215.44L185.66 215.78L186.55 216.12L187.43 216.47L188.31 216.83L189.18 217.19L190.06 217.56L190.93 217.93L191.79 218.31L192.65 218.70L193.51 219.09L194.37 219.50L195.22 219.90L196.07 220.32L196.91 220.74L197.75 221.17L198.58 221.60L199.41 222.04L200.24 222.49L201.06 222.95L201.88 223.41L202.69 223.88L203.50 224.35L204.30 224.83L205.10 225.32L205.89 225.82L206.68 226.32L207.46 226.83L208.23 227.34L209.00 227.87L209.77 228.39L210.53 228.93L211.28 229.47L212.03 230.02L212.77 230.58L213.50 231.14L214.23 231.71L214.95 232.29L215.67 232.87L216.37 233.46L217.08 234.06L217.77 234.66L218.46 235.27L219.14 235.89L219.82 236.51L220.49 237.14L221.15 237.78L221.81 238.42L222.46 239.07L223.11 239.72L223.74 240.38L224.38 241.04L225.00 241.72L225.62 242.39L226.23 243.08L226.84 243.77L227.44 244.46L228.03 245.16L228.62 245.87L229.20 246.58L229.77 247.29L230.34 248.01L230.90 248.74L231.46 249.47L232.01 250.21L232.55 250.95L233.09 251.70L233.62 252.45L234.14 253.20L234.66 253.96L235.17 254.73L235.68 255.50L236.18 256.27L236.67 257.05L237.16 257.83L237.64 258.62L238.11 259.41L238.58 260.21L239.04 261.01L239.50 261.81L239.95 262.62L240.40 263.43L240.83 264.25L241.27 265.07L241.69 265.89L242.11 266.71L242.53 267.54L242.93 268.38L243.34 269.21L243.73 270.05L244.12 270.90L244.51 271.74L244.88 272.59L245.26 273.45L245.62 274.30L245.98 275.16L246.33 276.02L246.68 276.88L247.02 277.75L247.36 278.62L247.69 279.49L248.02 280.37L248.33 281.24L248.65 282.12L248.95 283.00L249.25 283.89L249.55 284.77L249.84 285.66L250.12 286.55L250.40 287.44L250.67 288.34L250.93 289.23L251.19 290.13L251.45 291.03L251.70 291.93L251.94 292.83L252.18 293.74L252.41 294.64L252.63 295.55L252.85 296.46L253.07 297.36L253.27 298.27L253.48 299.19L253.67 300.10L253.86 301.01L254.05 301.92L254.23 302.84L254.40 303.75L254.57 304.67L254.73 305.59L254.89 306.50L255.04 307.42L255.19 308.34L255.33 309.26L255.47 310.18L255.60 311.10L255.72 312.02L255.84 312.95L255.96 313.87L256.07 314.79L256.17 315.72L256.27 316.64L256.36 317.57L256.45 318.49L256.54 319.42L256.62 320.34L256.69 321.27L256.76 322.20L256.83 323.13L256.89 324.05L256.94 324.98L256.99 325.91L257.04 326.84L257.08 327.77L257.12 328.70L257.15 329.63L257.18 330.56L257.20 331.49L257.22 332.42L257.24 333.36L257.25 334.29L257.25 335.22L257.26 336.15L257.25 337.08L257.25 338.02L257.24 338.95L257.22 339.88L257.20 340.81L257.18 341.75L257.15 342.68L257.12 343.61L257.09 344.55L257.05 345.48L257.01 346.41L256.96 347.35L256.92 348.28L256.86 349.21L256.81 350.15L256.75 351.08L256.68 352.01L256.61 352.95L256.54 353.88L256.47 354.81L256.39 355.75L256.31 356.68L256.23 357.61L256.14 358.54L256.05 359.47L255.95 360.41L255.86 361.34L255.76 362.27L255.65 363.20L255.55 364.13L255.44 365.06L255.32 365.99L255.21 366.92L255.09 367.85L254.97 368.78L254.85 369.71L254.72 370.64L254.59 371.56L254.46 372.49L254.32 373.42L254.19 374.34L254.05 375.27L253.90 376.20L253.76 377.12L253.61 378.04L253.46 378.97L253.31 379.89L253.16 380.81L253.00 381.74L252.84 382.66L252.68 383.58L252.52 384.50L252.35 385.42L252.18 386.34L252.01 387.26L251.84 388.17L251.67 389.09L251.49 390.01L251.31 390.92L251.13 391.84L250.95 392.75L250.77 393.66L250.58 394.58L250.40 395.49L250.21 396.40L250.01 397.31L249.82 398.22L249.62 399.13L249.43 400.04L249.23 400.95L249.03 401.86L248.82 402.77L248.62 403.67L248.41 404.58L248.20 405.48L247.99 406.39L247.78 407.29L247.56 408.20L247.35 409.10L247.13 410.00L246.91 410.91L246.69 411.81L246.47 412.71L246.24 413.61L246.01 414.51L245.78 415.41L245.55 416.31L245.32 417.21L245.09 418.10L244.85 419.00L244.62 419.90L244.38 420.79L244.14 421.69L243.89 422.58L243.65 423.48L243.41 424.37L243.16 425.27L242.91 426.16L242.66 427.05L242.41 427.94L242.15 428.84L241.90 429.73L241.64 430.62L241.39 431.51L241.13 432.40L240.86 433.29L240.60 434.18L240.34 435.06L240.07 435.95L239.81 436.84L239.54 437.73L239.27 438.61L239.00 439.50L238.72 440.39L238.45 441.27L238.17 442.16L237.90 443.04L237.62 443.92L237.34 444.81L237.06 445.69L236.78 446.57L236.49 447.46L236.21 448.34L235.92 449.22L235.63 450.10L235.34 450.98L235.05 451.86L234.76 452.74L234.47 453.62L234.18 454.50L233.88 455.38L233.58 456.26L233.29 457.14L232.99 458.01L232.69 458.89L232.39 459.77L232.08 460.65L231.78 461.52L231.47 462.40L231.17 463.27L230.86 464.15L230.55 465.02L230.24 465.90L229.93 466.77L229.62 467.65L229.31 468.52L229.00 469.40L228.68 470.27L228.37 471.14L228.05 472.01L227.73 472.89L227.41 473.76L227.09 474.63L226.77 475.50L226.45 476.37L226.13 477.24L225.81 478.12L225.48 478.99L225.16 479.86L224.83 480.73L224.50 481.60L224.17 482.46L223.84 483.33L223.51 484.20L223.18 485.07L222.85 485.94L222.52 486.81L222.18 487.67L221.85 488.54L221.51 489.41L221.17 490.27L220.83 491.14L220.49 492.01L220.15 492.87L219.81 493.74L219.47 494.60L219.13 495.46L218.78 496.33L218.43 497.19L218.09 498.06L217.74 498.92L217.39 499.78L217.04 500.64L216.69 501.50L216.34 502.37L215.98 503.23L215.63 504.09L215.27 504.95L214.91 505.81L214.56 506.66L214.20 507.52L213.84 508.38L213.48 509.24L213.11 510.10L212.75 510.95L212.38 511.81L212.02 512.67L211.65 513.52L211.28 514.38L210.91 515.23L210.54 516.09L210.17 516.94L209.80 517.79L209.42 518.65L209.05 519.50L208.67 520.35L208.29 521.20L207.91 522.05L207.53 522.90L207.15 523.75L206.77 524.60L206.38 525.45L206.00 526.30L205.61 527.14L205.23 527.99L204.84 528.84L204.45 529.68L204.06 530.53L203.66 531.37L203.27 532.22L202.87 533.06L202.48 533.91L202.08 534.75L201.68 535.59L201.28 536.43L200.88 537.27L200.48 538.11L200.07 538.95L199.67 539.79L199.26 540.63L198.85 541.47L198.44 542.31L198.03 543.14L197.62 543.98L197.21 544.82L196.79 545.65L196.38 546.48L195.96 547.32L195.54 548.15L195.12 548.98L194.70 549.82L194.27 550.65L193.85 551.48L193.43 552.31L193.00 553.14L192.57 553.96L192.14 554.79L191.71 555.62L191.28 556.45L190.84 557.27L190.41 558.10L189.97 558.92L189.53 559.74L189.09 560.57L188.65 561.39L188.21 562.21L187.77 563.03L187.32 563.85L186.88 564.67L186.43 565.49L185.98 566.31L185.53 567.13L185.07 567.94L184.62 568.76L184.17 569.57L183.71 570.39L183.25 571.20L182.79 572.01L182.33 572.83L181.87 573.64L181.41 574.45L180.95 575.26L180.48 576.07L180.02 576.88L179.55 577.69L179.09 578.50L178.62 579.31L178.15 580.12L177.69 580.92L177.22 581.73L176.75 582.54L176.28 583.35L175.81 584.15L175.34 584.96L174.87 585.77L174.40 586.57L173.93 587.38L173.46 588.18L172.99 588.99L172.52 589.79L172.05 590.60L171.58 591.41L171.12 592.21L170.65 593.02L170.18 593.82L169.71 594.63L169.25 595.44L168.78 596.24L168.31 597.05L167.85 597.85L167.39 598.66L166.92 599.47L166.46 600.27L166.00 601.08L165.54 601.89L165.08 602.70L164.62 603.51L164.16 604.32L163.71 605.12L163.26 605.93L162.80 606.74L162.35 607.55L161.90 608.37L161.45 609.18L161.01 609.99L160.56 610.80L160.12 611.62L159.68 612.43L159.24 613.24L158.80 614.06L158.37 614.88L157.93 615.69L157.50 616.51L157.07 617.33L156.65 618.15L156.22 618.97L155.80 619.79L155.38 620.61L154.96 621.43L154.55 622.26L154.13 623.08L153.73 623.91L153.32 624.73L152.91 625.56L152.51 626.39L152.11 627.22L151.72 628.05L151.33 628.88L150.94 629.72L150.55 630.55L150.17 631.38L149.79 632.22L149.41 633.06L149.04 633.90L148.67 634.74L148.30 635.58L147.94 636.43L147.59 637.27L147.26 638.11L146.98 638.93L146.78 639.74L146.68 640.51L146.70 641.25L146.88 641.94L147.23 642.58L147.78 643.17L148.47 643.70L149.27 644.18L150.11 644.62L150.96 645.02L151.82 645.38L152.69 645.71L153.57 646.01L154.45 646.28L155.33 646.52L156.23 646.74L157.13 646.92L158.03 647.09L158.94 647.23L159.86 647.35L160.78 647.45L161.70 647.54L162.63 647.60L163.56 647.66L164.49 647.70L165.42 647.73L166.36 647.76L167.30 647.77L168.23 647.78L169.17 647.79L170.12 647.79L171.06 647.79L172.00 647.79L172.94 647.80L173.88 647.80L174.82 647.80L175.76 647.80L176.70 647.81L177.64 647.81L178.58 647.81L179.52 647.81L180.46 647.82L181.40 647.82L182.34 647.82L183.28 647.82L184.22 647.83L185.16 647.83L186.09 647.83L187.03 647.84L187.97 647.84L188.91 647.84L189.85 647.84L190.79 647.85L191.73 647.85L192.67 647.85L193.61 647.85L194.55 647.86L195.48 647.86L196.42 647.86L197.36 647.86L198.30 647.87L199.24 647.87L200.18 647.87L201.12 647.87L202.05 647.88L202.99 647.88L203.93 647.88L204.87 647.89L205.81 647.89L206.74 647.89L207.68 647.89L208.62 647.90L209.56 647.90L210.49 647.90L211.43 647.90L212.37 647.91L213.31 647.91L214.24 647.91L215.18 647.92L216.12 647.92L217.06 647.92L217.99 647.92L218.93 647.93L219.87 647.93L220.80 647.93L221.74 647.94L222.68 647.94L223.61 647.94L224.55 647.94L225.49 647.95L226.42 647.95L227.36 647.95L228.30 647.95L229.23 647.96L230.17 647.96L231.11 647.96L232.04 647.97L232.98 647.97L233.91 647.97L234.85 647.97L235.79 647.98L236.72 647.98L237.66 647.98L238.59 647.99L239.53 647.99L240.46 647.99L241.40 647.99L242.34 648.00L243.27 648.00L244.21 648.00L245.14 648.01L246.08 648.01L247.01 648.01L247.95 648.02L248.88 648.02L249.82 648.02L250.75 648.02L251.69 648.03L252.62 648.03L253.56 648.03L254.49 648.04L255.43 648.04L256.36 648.04L257.30 648.04L258.23 648.05L259.17 648.05L260.10 648.05L261.03 648.06L261.97 648.06L262.90 648.06L263.84 648.07L264.77 648.07L265.71 648.07L266.64 648.07L267.57 648.08L268.51 648.08L269.44 648.08L270.38 648.09L271.31 648.09L272.24 648.09L273.18 648.10L274.11 648.10L275.04 648.10L275.98 648.10L276.91 648.11L277.84 648.11L278.78 648.11L279.71 648.12L280.65 648.12L281.58 648.12L282.51 648.13L283.44 648.13L284.38 648.13L285.31 648.13L286.24 648.14L287.18 648.14L288.11 648.14L289.04 648.15L289.98 648.15L290.91 648.15L291.84 648.16L292.77 648.16L293.71 648.16L294.64 648.16L295.57 648.17L296.50 648.17L297.44 648.17L298.37 648.18L299.30 648.18L300.23 648.18L301.17 648.19L302.10 648.19L303.03 648.19L303.96 648.19L304.90 648.20L305.83 648.20L306.76 648.20L307.69 648.21L308.62 648.21L309.56 648.21L310.49 648.22L311.42 648.22L312.35 648.22L313.28 648.23L314.22 648.23L315.15 648.23L316.08 648.23L317.01 648.24L317.94 648.24L318.87 648.24L319.81 648.25L320.74 648.25L321.67 648.25L322.60 648.26L323.53 648.26L324.46 648.26L325.39 648.26L326.32 648.27L327.26 648.27L328.19 648.27L329.12 648.28L330.05 648.28L330.98 648.28L331.91 648.29L332.84 648.29L333.77 648.29L334.70 648.30L335.64 648.30L336.57 648.30L337.50 648.30L338.43 648.31L339.36 648.31L340.29 648.31L341.22 648.32L342.15 648.32L343.08 648.32L344.01 648.33L344.94 648.33L345.87 648.33L346.80 648.33L347.73 648.34L348.66 648.34L349.59 648.34L350.52 648.35L351.46 648.35L352.39 648.35L353.32 648.36L354.25 648.36L355.18 648.36L356.11 648.36L357.04 648.37L357.97 648.37L358.90 648.37L359.83 648.38L360.76 648.38L361.69 648.38L362.62 648.39L363.55 648.39L364.48 648.39L365.41 648.39L366.34 648.40L367.27 648.40L368.20 648.40L369.13 648.41L370.06 648.41L370.99 648.41L371.92 648.41L372.84 648.42L373.77 648.42L374.70 648.42L375.63 648.43L376.56 648.43L377.49 648.43L378.42 648.44L379.35 648.44L380.28 648.44L381.21 648.44L382.14 648.45L383.07 648.45L384.00 648.45L384.93 648.46L385.86 648.46L386.79 648.46L387.72 648.46L388.65 648.47L389.58 648.47L390.50 648.47L391.43 648.48L392.36 648.48L393.29 648.48L394.22 648.48L395.15 648.49L396.08 648.49L397.01 648.49L397.94 648.50L398.87 648.50L399.80 648.50L400.72 648.50L401.65 648.51L402.58 648.51L403.51 648.51L404.44 648.52L405.37 648.52L406.30 648.52L407.23 648.52L408.16 648.53L409.08 648.53L410.01 648.53L410.94 648.54L411.87 648.54L412.80 648.54L413.73 648.54L414.66 648.55L415.59 648.55L416.52 648.55L417.44 648.55L418.37 648.56L419.30 648.56L420.23 648.56L421.16 648.57L422.09 648.57L423.02 648.57L423.94 648.57L424.87 648.58L425.80 648.58L426.73 648.58L427.66 648.58L428.59 648.59L429.52 648.59L430.44 648.59L431.37 648.60L432.30 648.60L433.23 648.60L434.16 648.60L435.09 648.61L436.02 648.61L436.94 648.61L437.87 648.61L438.80 648.62L439.73 648.62L440.66 648.62L441.59 648.62L442.51 648.63L443.44 648.63L444.37 648.63L445.30 648.63L446.23 648.64L447.16 648.64L448.08 648.64L449.01 648.64L449.94 648.65L450.87 648.65L451.80 648.65L452.73 648.66L453.65 648.66L454.58 648.66L455.51 648.66L456.44 648.67L457.37 648.67L458.30 648.67L459.22 648.67L460.15 648.67L461.08 648.68L462.01 648.68L462.94 648.68L463.86 648.68L464.79 648.69L465.72 648.69L466.65 648.69L467.58 648.69L468.51 648.70L469.43 648.70L470.36 648.70L471.29 648.70L472.22 648.71L473.15 648.71L474.08 648.71L475.00 648.71L475.93 648.72L476.86 648.72L477.79 648.72L478.72 648.72L479.64 648.72L480.57 648.73L481.50 648.73L482.43 648.73L483.36 648.73L484.29 648.74L485.21 648.74L486.14 648.74L487.07 648.74L488.00 648.74L488.93 648.75L489.86 648.75L490.78 648.75L491.71 648.75L492.64 648.76L493.57 648.76L494.50 648.76L495.42 648.76L496.35 648.76L497.28 648.77L498.21 648.77L499.14 648.77L500.07 648.77L500.99 648.77L501.92 648.78L502.85 648.78L503.78 648.78L504.71 648.78L505.64 648.78L506.56 648.79L507.49 648.79L508.42 648.79L509.35 648.79L510.28 648.79L511.21 648.80L512.13 648.80L513.06 648.80L513.99 648.80L514.92 648.80L515.85 648.81L516.78 648.81L517.70 648.81L518.63 648.81L519.56 648.81L520.49 648.82L521.42 648.82L522.35 648.82L523.28 648.82L524.20 648.82L525.13 648.83L526.06 648.83L526.99 648.83L527.92 648.83L528.85 648.83L529.78 648.83L530.70 648.84L531.63 648.84L532.56 648.84L533.49 648.84L534.42 648.84L535.35 648.84L536.28 648.85L537.20 648.85L538.13 648.85L539.06 648.85L539.99 648.85L540.92 648.85L541.85 648.86L542.78 648.86L543.71 648.86L544.63 648.86L545.56 648.86L546.49 648.86L547.42 648.87L548.35 648.87L549.28 648.87L550.21 648.87L551.14 648.87L552.06 648.87L552.99 648.87L553.92 648.88L554.85 648.88L555.78 648.88L556.71 648.88L557.64 648.88L558.57 648.88L559.50 648.88L560.43 648.89L561.36 648.89L562.28 648.89L563.21 648.89L564.14 648.89L565.07 648.89L566.00 648.89L566.93 648.89L567.86 648.90L568.79 648.90L569.72 648.90L570.65 648.90L571.58 648.90L572.51 648.90L573.44 648.90L574.37 648.90L575.29 648.91L576.22 648.91L577.15 648.91L578.08 648.91L579.01 648.91L579.94 648.91L580.87 648.91L581.80 648.91L582.73 648.91L583.66 648.91L584.59 648.92L585.52 648.92L586.45 648.92L587.38 648.92L588.31 648.92L589.24 648.92L590.17 648.92L591.10 648.92L592.03 648.92L592.96 648.92L593.89 648.93L594.82 648.93L595.75 648.93L596.68 648.93L597.61 648.93L598.54 648.93L599.47 648.93L600.40 648.93L601.33 648.93L602.26 648.93L603.19 648.93L604.12 648.93L605.05 648.93L605.98 648.94L606.91 648.94L607.84 648.94L608.77 648.94L609.70 648.94L610.63 648.94L611.56 648.94L612.49 648.94L613.43 648.94L614.36 648.94L615.29 648.94L616.22 648.94L617.15 648.94L618.08 648.94L619.01 648.94L619.94 648.94L620.87 648.94L621.80 648.94L622.73 648.94L623.66 648.95L624.60 648.95L625.53 648.95L626.46 648.95L627.39 648.95L628.32 648.95L629.25 648.95L630.18 648.95L631.11 648.95L632.04 648.95L632.98 648.95L633.91 648.95L634.84 648.95L635.77 648.95L636.70 648.95L637.63 648.95L638.57 648.95L639.50 648.95L640.43 648.95L641.36 648.95L642.29 648.95L643.22 648.95L644.16 648.95L645.09 648.95L646.02 648.95L646.95 648.95L647.88 648.95L648.82 648.95L649.75 648.95L650.68 648.95L651.61 648.95L652.54 648.95L653.48 648.95L654.41 648.95L655.34 648.95L656.27 648.95L657.21 648.95L658.14 648.95L659.07 648.95L660.00 648.95L660.94 648.95L661.87 648.95L662.80 648.95L663.73 648.95L664.67 648.95L665.60 648.94L666.53 648.94L667.46 648.94L668.40 648.94L669.33 648.94L670.26 648.94L671.20 648.94L672.13 648.94L673.06 648.94L674.00 648.94L674.93 648.94L675.86 648.94L676.80 648.94L677.73 648.94L678.66 648.94L679.60 648.94L680.53 648.94L681.46 648.94L682.40 648.93L683.33 648.93L684.27 648.93L685.20 648.93L686.13 648.93L687.07 648.93L688.00 648.93L688.94 648.93L689.87 648.93L690.80 648.93L691.74 648.93L692.67 648.93L693.61 648.92L694.54 648.92L695.47 648.92L696.41 648.92L697.34 648.92L698.28 648.92L699.21 648.92L700.15 648.92L701.08 648.92L702.02 648.91L702.95 648.91L703.89 648.91L704.82 648.91L705.76 648.91L706.69 648.91L707.63 648.91L708.56 648.91L709.50 648.90L710.43 648.90L711.37 648.90L712.30 648.90L713.24 648.90L714.17 648.90L715.11 648.90L716.05 648.90L716.98 648.89L717.92 648.89L718.85 648.89L719.79 648.89L720.72 648.89L721.66 648.89L722.60 648.88L723.53 648.88L724.47 648.88L725.40 648.88L726.34 648.88L727.28 648.88L728.21 648.87L729.15 648.87L730.09 648.87" stroke="#ed1c24"/>
</g>
<path d="M134.5 885.5H722.4V1427.4H134.5Z" fill="none" stroke="#231f20" stroke-width="2.9" stroke-linejoin="round"/>
<path d="M252.08 885.5v7.5M252.08 1427.4v-7M369.66 885.5v7.5M369.66 1427.4v-7M487.24 885.5v7.5M487.24 1427.4v-7M604.82 885.5v7.5M604.82 1427.4v-7M134.5 1337.26h5.5M722.4 1337.26h-6.5M134.5 1247.02h5.5M722.4 1247.02h-6.5M134.5 1156.78h5.5M722.4 1156.78h-6.5M134.5 1066.54h5.5M722.4 1066.54h-6.5M134.5 976.30h5.5M722.4 976.30h-6.5" stroke="#231f20" stroke-width="2.6" fill="none"/>
<g clip-path="url(#cb)" fill="none" stroke-width="7.4" stroke-linejoin="round">
<path d="M134.56 1427.50L135.46 1427.50L136.37 1427.50L137.27 1427.50L138.18 1427.50L139.08 1427.50L139.99 1427.50L140.89 1427.50L141.80 1427.50L142.70 1427.50L143.61 1427.50L144.52 1427.50L145.42 1427.50L146.33 1427.50L147.23 1427.50L148.14 1427.50L149.04 1427.50L149.95 1427.50L150.85 1427.50L151.76 1427.50L152.67 1427.50L153.57 1427.50L154.48 1427.50L155.38 1427.50L156.29 1427.50L157.19 1427.50L158.10 1427.50L159.00 1427.50L159.91 1427.50L160.82 1427.50L161.72 1427.50L162.63 1427.50L163.53 1427.50L164.44 1427.50L165.34 1427.50L166.25 1427.50L167.16 1427.50L168.06 1427.50L168.97 1427.50L169.87 1427.50L170.78 1427.50L171.68 1427.50L172.59 1427.50L173.50 1427.50L174.40 1427.50L175.31 1427.50L176.21 1427.50L177.12 1427.50L178.03 1427.50L178.93 1427.50L179.84 1427.50L180.74 1427.50L181.65 1427.50L182.55 1427.50L183.46 1427.50L184.37 1427.50L185.27 1427.50L186.18 1427.50L187.08 1427.50L187.99 1427.50L188.90 1427.50L189.80 1427.50L190.71 1427.50L191.61 1427.50L192.52 1427.50L193.43 1427.50L194.33 1427.50L195.24 1427.50L196.14 1427.50L197.05 1427.50L197.96 1427.50L198.86 1427.50L199.77 1427.50L200.67 1427.50L201.58 1427.50L202.49 1427.50L203.39 1427.50L204.30 1427.50L205.20 1427.50L206.11 1427.50L207.02 1427.50L207.92 1427.50L208.83 1427.50L209.74 1427.50L210.64 1427.50L211.55 1427.50L212.45 1427.50L213.36 1427.50L214.27 1427.50L215.17 1427.50L216.08 1427.50L216.98 1427.50L217.89 1427.50L218.80 1427.50L219.70 1427.50L220.61 1427.50L221.51 1427.50L222.42 1427.50L223.33 1427.50L224.23 1427.50L225.14 1427.50L226.05 1427.50L226.95 1427.50L227.86 1427.50L228.76 1427.50L229.67 1427.50L230.58 1427.50L231.48 1427.50L232.39 1427.50L233.30 1427.50L234.20 1427.50L235.11 1427.50L236.01 1427.50L236.92 1427.50L237.83 1427.50L238.73 1427.50L239.64 1427.50L240.55 1427.50L241.45 1427.50L242.36 1427.50L243.26 1427.50L244.17 1427.50L245.08 1427.50L245.98 1427.50L246.89 1427.50L247.80 1427.50L248.70 1427.50L249.61 1427.50L250.51 1427.50L251.42 1427.50L252.33 1427.50L253.23 1427.50L254.14 1427.50L255.05 1427.50L255.95 1427.50L256.86 1427.50L257.77 1427.50L258.67 1427.50L259.58 1427.50L260.48 1427.50L261.39 1427.50L262.30 1427.50L263.20 1427.50L264.11 1427.50L265.02 1427.50L265.92 1427.50L266.83 1427.50L267.73 1427.50L268.64 1427.50L269.55 1427.50L270.45 1427.50L271.36 1427.50L272.27 1427.50L273.17 1427.50L274.08 1427.50L274.99 1427.50L275.89 1427.50L276.80 1427.50L277.70 1427.50L278.61 1427.50L279.52 1427.50L280.42 1427.50L281.33 1427.50L282.24 1427.50L283.14 1427.50L284.05 1427.50L284.96 1427.50L285.86 1427.50L286.77 1427.50L287.67 1427.50L288.58 1427.50L289.49 1427.50L290.39 1427.49L291.30 1427.49L292.21 1427.49L293.11 1427.49L294.02 1427.49L294.93 1427.49L295.83 1427.49L296.74 1427.49L297.64 1427.49L298.55 1427.49L299.46 1427.49L300.36 1427.49L301.27 1427.49L302.18 1427.49L303.08 1427.49L303.99 1427.49L304.90 1427.49L305.80 1427.49L306.71 1427.49L307.61 1427.49L308.52 1427.49L309.43 1427.49L310.33 1427.49L311.24 1427.49L312.15 1427.49L313.05 1427.49L313.96 1427.49L314.87 1427.49L315.77 1427.49L316.68 1427.49L317.58 1427.49L318.49 1427.49L319.40 1427.49L320.30 1427.49L321.21 1427.49L322.12 1427.49L323.02 1427.49L323.93 1427.49L324.83 1427.49L325.74 1427.49L326.65 1427.49L327.55 1427.49L328.46 1427.49L329.37 1427.49L330.27 1427.49L331.18 1427.49L332.09 1427.49L332.99 1427.49L333.90 1427.49L334.80 1427.49L335.71 1427.49L336.62 1427.49L337.52 1427.49L338.43 1427.49L339.34 1427.49L340.24 1427.49L341.15 1427.49L342.05 1427.49L342.96 1427.49L343.87 1427.49L344.77 1427.49L345.68 1427.49L346.59 1427.48L347.49 1427.48L348.40 1427.48L349.30 1427.48L350.21 1427.48L351.12 1427.48L352.02 1427.48L352.93 1427.48L353.83 1427.48L354.74 1427.48L355.65 1427.48L356.55 1427.48L357.46 1427.48L358.37 1427.48L359.27 1427.48L360.18 1427.48L361.08 1427.48L361.99 1427.48L362.90 1427.48L363.80 1427.48L364.71 1427.48L365.61 1427.48L366.52 1427.48L367.43 1427.48L368.33 1427.48L369.24 1427.48L370.15 1427.48L371.05 1427.48L371.96 1427.48L372.86 1427.48L373.77 1427.48L374.68 1427.48L375.58 1427.48L376.49 1427.48L377.39 1427.48L378.30 1427.48L379.21 1427.48L380.11 1427.48L381.02 1427.48L381.92 1427.47L382.83 1427.47L383.74 1427.47L384.64 1427.47L385.55 1427.47L386.45 1427.47L387.36 1427.47L388.27 1427.47L389.17 1427.47L390.08 1427.47L390.98 1427.47L391.89 1427.47L392.79 1427.47L393.70 1427.47L394.61 1427.47L395.51 1427.47L396.42 1427.47L397.32 1427.47L398.23 1427.47L399.14 1427.47L400.04 1427.47L400.95 1427.47L401.85 1427.47L402.76 1427.47L403.67 1427.47L404.57 1427.47L405.48 1427.47L406.38 1427.47L407.29 1427.47L408.19 1427.47L409.10 1427.47L410.01 1427.46L410.91 1427.46L411.82 1427.46L412.72 1427.46L413.63 1427.46L414.53 1427.46L415.44 1427.46L416.35 1427.46L417.25 1427.46L418.16 1427.46L419.06 1427.46L419.97 1427.46L420.87 1427.46L421.78 1427.46L422.68 1427.46L423.59 1427.46L424.50 1427.46L425.40 1427.46L426.31 1427.46L427.21 1427.46L428.12 1427.46L429.02 1427.46L429.93 1427.46L430.83 1427.46L431.74 1427.46L432.65 1427.45L433.55 1427.45L434.46 1427.45L435.36 1427.45L436.27 1427.45L437.17 1427.45L438.08 1427.45L438.98 1427.45L439.89 1427.45L440.80 1427.45L441.70 1427.45L442.61 1427.45L443.51 1427.45L444.42 1427.45L445.32 1427.45L446.23 1427.45L447.13 1427.45L448.04 1427.45L448.95 1427.45L449.85 1427.45L450.76 1427.44L451.66 1427.44L452.57 1427.44L453.47 1427.44L454.38 1427.44L455.28 1427.44L456.19 1427.44L457.10 1427.44L458.00 1427.44L458.91 1427.44L459.81 1427.44L460.72 1427.44L461.62 1427.44L462.53 1427.44L463.44 1427.44L464.34 1427.44L465.25 1427.43L466.15 1427.43L467.06 1427.43L467.96 1427.43L468.87 1427.43L469.78 1427.43L470.68 1427.43L471.59 1427.43L472.49 1427.43L473.40 1427.43L474.31 1427.43L475.21 1427.43L476.12 1427.43L477.02 1427.42L477.93 1427.42L478.84 1427.42L479.74 1427.42L480.65 1427.42L481.55 1427.42L482.46 1427.42L483.37 1427.42L484.27 1427.42L485.18 1427.42L486.08 1427.42L486.99 1427.42L487.90 1427.41L488.80 1427.41L489.71 1427.41L490.62 1427.41L491.52 1427.41L492.43 1427.41L493.33 1427.41L494.24 1427.41L495.15 1427.41L496.05 1427.41L496.96 1427.40L497.87 1427.40L498.77 1427.40L499.68 1427.40L500.59 1427.40L501.49 1427.40L502.40 1427.40L503.31 1427.40L504.21 1427.39L505.12 1427.39L506.03 1427.39L506.93 1427.39L507.84 1427.39L508.75 1427.39L509.66 1427.39L510.56 1427.39L511.47 1427.38L512.38 1427.38L513.28 1427.38L514.19 1427.38L515.10 1427.38L516.01 1427.38L516.91 1427.38L517.82 1427.38L518.73 1427.37L519.64 1427.37L520.54 1427.37L521.45 1427.37L522.36 1427.37L523.27 1427.37L524.17 1427.37L525.08 1427.36L525.99 1427.36L526.90 1427.36L527.81 1427.36L528.71 1427.36L529.62 1427.36L530.53 1427.35L531.44 1427.35L532.35 1427.35L533.25 1427.35L534.16 1427.35L535.07 1427.35L535.98 1427.34L536.89 1427.34L537.80 1427.34L538.70 1427.34L539.61 1427.34L540.52 1427.33L541.43 1427.33L542.34 1427.33L543.25 1427.33L544.16 1427.33L545.07 1427.33L545.97 1427.32L546.88 1427.32L547.79 1427.32L548.70 1427.32L549.61 1427.31L550.52 1427.31L551.43 1427.31L552.34 1427.31L553.25 1427.31L554.16 1427.30L555.07 1427.30L555.98 1427.30L556.89 1427.30L557.80 1427.30L558.71 1427.29L559.62 1427.29L560.53 1427.29L561.44 1427.29L562.35 1427.28L563.26 1427.28L564.17 1427.28L565.07 1427.28L565.98 1427.27L566.89 1427.27L567.80 1427.27L568.70 1427.26L569.61 1427.26L570.51 1427.25L571.41 1427.25L572.31 1427.24L573.21 1427.23L574.10 1427.23L574.99 1427.22L575.88 1427.21L576.77 1427.20L577.65 1427.19L578.53 1427.18L579.41 1427.16L580.29 1427.15L581.16 1427.13L582.02 1427.12L582.88 1427.10L583.74 1427.08L584.60 1427.06L585.45 1427.04L586.29 1427.01L587.13 1426.99L587.92 1426.96L588.51 1426.93L588.76 1426.89L588.53 1426.84L587.66 1426.79L586.26 1426.72L584.75 1426.67L583.56 1426.64L582.65 1426.62L581.82 1426.61L580.98 1426.60L580.12 1426.58L579.26 1426.57L578.38 1426.55L577.50 1426.53L576.60 1426.52L575.71 1426.50L574.80 1426.48L573.90 1426.46L572.99 1426.44L572.08 1426.42L571.17 1426.40L570.26 1426.38L569.36 1426.37L568.45 1426.35L567.54 1426.33L566.63 1426.31L565.72 1426.29L564.81 1426.28L563.91 1426.26L563.00 1426.24L562.09 1426.22L561.18 1426.21L560.28 1426.19L559.37 1426.17L558.46 1426.15L557.56 1426.14L556.65 1426.12L555.74 1426.10L554.84 1426.08L553.93 1426.07L553.02 1426.05L552.12 1426.03L551.21 1426.02L550.30 1426.00L549.40 1425.98L548.49 1425.97L547.59 1425.95L546.68 1425.93L545.77 1425.92L544.87 1425.90L543.96 1425.88L543.06 1425.87L542.15 1425.85L541.24 1425.83L540.34 1425.82L539.43 1425.80L538.53 1425.78L537.62 1425.77L536.72 1425.75L535.81 1425.73L534.91 1425.72L534.00 1425.70L533.09 1425.68L532.19 1425.67L531.28 1425.65L530.38 1425.63L529.47 1425.62L528.57 1425.60L527.66 1425.58L526.76 1425.57L525.85 1425.55L524.94 1425.53L524.04 1425.51L523.13 1425.50L522.23 1425.48L521.32 1425.46L520.42 1425.44L519.51 1425.43L518.61 1425.41L517.70 1425.39L516.79 1425.37L515.89 1425.36L514.98 1425.34L514.08 1425.32L513.17 1425.30L512.27 1425.28L511.36 1425.26L510.46 1425.24L509.55 1425.23L508.64 1425.21L507.74 1425.19L506.83 1425.17L505.93 1425.15L505.02 1425.13L504.11 1425.11L503.21 1425.09L502.30 1425.07L501.40 1425.05L500.49 1425.03L499.58 1425.01L498.68 1424.99L497.77 1424.97L496.87 1424.95L495.96 1424.93L495.06 1424.91L494.15 1424.89L493.24 1424.87L492.34 1424.85L491.43 1424.83L490.53 1424.81L489.62 1424.79L488.71 1424.77L487.81 1424.75L486.90 1424.73L486.00 1424.70L485.09 1424.68L484.18 1424.66L483.28 1424.64L482.37 1424.62L481.46 1424.59L480.56 1424.57L479.65 1424.55L478.75 1424.53L477.84 1424.51L476.93 1424.48L476.03 1424.46L475.12 1424.44L474.22 1424.41L473.31 1424.39L472.40 1424.37L471.50 1424.34L470.59 1424.32L469.69 1424.30L468.78 1424.27L467.87 1424.25L466.97 1424.23L466.06 1424.20L465.16 1424.18L464.25 1424.15L463.34 1424.13L462.44 1424.10L461.53 1424.08L460.63 1424.05L459.72 1424.03L458.81 1424.00L457.91 1423.98L457.00 1423.95L456.09 1423.93L455.19 1423.90L454.28 1423.88L453.38 1423.85L452.47 1423.82L451.56 1423.80L450.66 1423.77L449.75 1423.74L448.85 1423.72L447.94 1423.69L447.03 1423.66L446.13 1423.64L445.22 1423.61L444.32 1423.58L443.41 1423.55L442.50 1423.52L441.60 1423.50L440.69 1423.47L439.79 1423.44L438.88 1423.41L437.98 1423.38L437.07 1423.35L436.16 1423.33L435.26 1423.30L434.35 1423.27L433.45 1423.24L432.54 1423.21L431.63 1423.18L430.73 1423.15L429.82 1423.12L428.92 1423.09L428.01 1423.06L427.11 1423.03L426.20 1423.00L425.29 1422.97L424.39 1422.93L423.48 1422.90L422.58 1422.87L421.67 1422.84L420.77 1422.81L419.86 1422.78L418.96 1422.74L418.05 1422.71L417.14 1422.68L416.24 1422.65L415.33 1422.61L414.43 1422.58L413.52 1422.55L412.62 1422.51L411.71 1422.48L410.81 1422.45L409.90 1422.41L409.00 1422.38L408.09 1422.34L407.19 1422.31L406.28 1422.28L405.38 1422.24L404.47 1422.20L403.56 1422.17L402.66 1422.13L401.75 1422.10L400.85 1422.06L399.94 1422.02L399.04 1421.99L398.13 1421.95L397.23 1421.91L396.32 1421.87L395.42 1421.84L394.51 1421.80L393.61 1421.76L392.70 1421.72L391.80 1421.68L390.89 1421.64L389.99 1421.60L389.09 1421.56L388.18 1421.52L387.28 1421.47L386.37 1421.43L385.47 1421.39L384.56 1421.35L383.66 1421.30L382.75 1421.26L381.85 1421.22L380.94 1421.17L380.04 1421.13L379.13 1421.08L378.23 1421.04L377.33 1420.99L376.42 1420.94L375.52 1420.90L374.61 1420.85L373.71 1420.80L372.80 1420.75L371.90 1420.70L370.99 1420.65L370.09 1420.60L369.19 1420.55L368.28 1420.50L367.38 1420.45L366.47 1420.40L365.57 1420.34L364.67 1420.29L363.76 1420.23L362.86 1420.18L361.95 1420.12L361.05 1420.07L360.15 1420.01L359.24 1419.95L358.34 1419.90L357.43 1419.84L356.53 1419.78L355.63 1419.72L354.72 1419.66L353.82 1419.60L352.91 1419.54L352.01 1419.47L351.11 1419.41L350.20 1419.35L349.30 1419.28L348.40 1419.22L347.49 1419.15L346.59 1419.09L345.69 1419.02L344.78 1418.95L343.88 1418.88L342.98 1418.81L342.07 1418.74L341.17 1418.67L340.26 1418.60L339.36 1418.53L338.46 1418.46L337.56 1418.38L336.65 1418.31L335.75 1418.23L334.85 1418.16L333.94 1418.08L333.04 1418.00L332.14 1417.92L331.23 1417.84L330.33 1417.76L329.43 1417.68L328.52 1417.60L327.62 1417.52L326.72 1417.43L325.82 1417.35L324.91 1417.26L324.01 1417.18L323.11 1417.09L322.20 1417.00L321.30 1416.91L320.40 1416.82L319.50 1416.73L318.59 1416.64L317.69 1416.55L316.79 1416.45L315.89 1416.36L314.98 1416.26L314.08 1416.16L313.18 1416.07L312.28 1415.97L311.37 1415.87L310.47 1415.77L309.57 1415.67L308.67 1415.56L307.77 1415.46L306.86 1415.36L305.96 1415.25L305.06 1415.14L304.16 1415.03L303.26 1414.92L302.35 1414.81L301.45 1414.70L300.55 1414.58L299.65 1414.47L298.75 1414.35L297.85 1414.22L296.95 1414.10L296.06 1413.97L295.16 1413.84L294.26 1413.70L293.36 1413.57L292.47 1413.43L291.57 1413.28L290.68 1413.13L289.79 1412.98L288.90 1412.82L288.01 1412.66L287.12 1412.50L286.23 1412.33L285.34 1412.16L284.45 1411.98L283.57 1411.79L282.69 1411.60L281.80 1411.41L280.92 1411.21L280.04 1411.00L279.17 1410.79L278.29 1410.57L277.42 1410.35L276.54 1410.12L275.67 1409.88L274.80 1409.64L273.94 1409.39L273.07 1409.13L272.21 1408.87L271.34 1408.60L270.48 1408.32L269.63 1408.03L268.77 1407.74L267.92 1407.44L267.07 1407.13L266.22 1406.81L265.37 1406.49L264.53 1406.15L263.68 1405.81L262.85 1405.46L262.01 1405.10L261.17 1404.72L260.34 1404.35L259.51 1403.96L258.69 1403.56L257.86 1403.15L257.04 1402.73L256.23 1402.30L255.42 1401.86L254.62 1401.41L253.83 1400.94L253.06 1400.45L252.32 1399.95L251.60 1399.42L250.92 1398.87L250.26 1398.29L249.65 1397.69L249.08 1397.06L248.55 1396.40L248.07 1395.71L247.65 1394.98L247.29 1394.22L246.98 1393.42L246.73 1392.59L246.53 1391.73L246.39 1390.85L246.29 1389.94L246.24 1389.02L246.23 1388.09L246.26 1387.14L246.33 1386.19L246.43 1385.23L246.56 1384.28L246.72 1383.33L246.91 1382.39L247.12 1381.45L247.35 1380.54L247.60 1379.63L247.87 1378.74L248.16 1377.86L248.47 1376.99L248.79 1376.13L249.14 1375.29L249.50 1374.46L249.88 1373.63L250.27 1372.82L250.68 1372.01L251.11 1371.22L251.55 1370.44L252.00 1369.66L252.47 1368.89L252.95 1368.13L253.44 1367.38L253.94 1366.64L254.45 1365.90L254.98 1365.17L255.51 1364.45L256.05 1363.73L256.61 1363.02L257.17 1362.32L257.74 1361.62L258.31 1360.92L258.89 1360.23L259.48 1359.54L260.07 1358.86L260.67 1358.18L261.28 1357.50L261.88 1356.83L262.49 1356.16L263.10 1355.49L263.72 1354.82L264.34 1354.16L264.95 1353.49L265.57 1352.83L266.19 1352.16L266.81 1351.50L267.43 1350.84L268.05 1350.18L268.68 1349.52L269.30 1348.86L269.92 1348.20L270.55 1347.55L271.18 1346.89L271.80 1346.24L272.43 1345.58L273.06 1344.93L273.69 1344.28L274.32 1343.63L274.95 1342.98L275.59 1342.33L276.22 1341.68L276.85 1341.04L277.49 1340.39L278.12 1339.74L278.76 1339.10L279.40 1338.46L280.04 1337.81L280.68 1337.17L281.32 1336.53L281.96 1335.89L282.60 1335.25L283.24 1334.61L283.88 1333.98L284.53 1333.34L285.17 1332.70L285.82 1332.07L286.47 1331.43L287.11 1330.80L287.76 1330.17L288.41 1329.54L289.06 1328.91L289.71 1328.28L290.36 1327.65L291.01 1327.02L291.66 1326.39L292.32 1325.76L292.97 1325.14L293.62 1324.51L294.28 1323.89L294.94 1323.26L295.59 1322.64L296.25 1322.02L296.91 1321.40L297.57 1320.77L298.23 1320.15L298.89 1319.53L299.55 1318.92L300.21 1318.30L300.87 1317.68L301.53 1317.06L302.20 1316.45L302.86 1315.83L303.53 1315.22L304.19 1314.60L304.86 1313.99L305.52 1313.38L306.19 1312.77L306.86 1312.16L307.53 1311.55L308.20 1310.94L308.87 1310.33L309.54 1309.72L310.21 1309.11L310.88 1308.50L311.55 1307.90L312.22 1307.29L312.90 1306.68L313.57 1306.08L314.24 1305.48L314.92 1304.87L315.59 1304.27L316.27 1303.67L316.95 1303.06L317.62 1302.46L318.30 1301.86L318.98 1301.26L319.66 1300.66L320.34 1300.06L321.02 1299.47L321.70 1298.87L322.38 1298.27L323.06 1297.67L323.74 1297.08L324.42 1296.48L325.11 1295.89L325.79 1295.29L326.47 1294.70L327.16 1294.11L327.84 1293.51L328.53 1292.92L329.21 1292.33L329.90 1291.74L330.58 1291.14L331.27 1290.55L331.96 1289.96L332.65 1289.37L333.33 1288.79L334.02 1288.20L334.71 1287.61L335.40 1287.02L336.09 1286.43L336.78 1285.85L337.47 1285.26L338.16 1284.67L338.85 1284.09L339.54 1283.50L340.24 1282.92L340.93 1282.33L341.62 1281.75L342.32 1281.17L343.01 1280.58L343.70 1280.00L344.40 1279.42L345.09 1278.83L345.79 1278.25L346.48 1277.67L347.18 1277.09L347.87 1276.51L348.57 1275.93L349.27 1275.35L349.96 1274.77L350.66 1274.19L351.36 1273.61L352.06 1273.03L352.75 1272.45L353.45 1271.88L354.15 1271.30L354.85 1270.72L355.55 1270.14L356.25 1269.57L356.95 1268.99L357.65 1268.41L358.35 1267.84L359.05 1267.26L359.75 1266.69L360.45 1266.11L361.15 1265.54L361.85 1264.96L362.55 1264.39L363.25 1263.81L363.96 1263.24L364.66 1262.67L365.36 1262.09L366.06 1261.52L366.77 1260.95L367.47 1260.37L368.17 1259.80L368.88 1259.23L369.58 1258.66L370.28 1258.09L370.99 1257.51L371.69 1256.94L372.39 1256.37L373.10 1255.80L373.80 1255.23L374.51 1254.66L375.21 1254.09L375.92 1253.52L376.62 1252.95L377.33 1252.38L378.03 1251.80L378.74 1251.23L379.44 1250.66L380.15 1250.09L380.85 1249.53L381.56 1248.96L382.26 1248.39L382.97 1247.82L383.68 1247.25L384.38 1246.68L385.09 1246.11L385.79 1245.54L386.50 1244.97L387.21 1244.40L387.91 1243.83L388.62 1243.26L389.32 1242.69L390.03 1242.13L390.74 1241.56L391.44 1240.99L392.15 1240.42L392.86 1239.85L393.56 1239.28L394.27 1238.71L394.98 1238.15L395.68 1237.58L396.39 1237.01L397.09 1236.44L397.80 1235.87L398.51 1235.31L399.21 1234.74L399.92 1234.17L400.63 1233.60L401.33 1233.03L402.04 1232.47L402.75 1231.90L403.45 1231.33L404.16 1230.76L404.87 1230.19L405.57 1229.63L406.28 1229.06L406.99 1228.49L407.70 1227.92L408.40 1227.36L409.11 1226.79L409.82 1226.22L410.52 1225.65L411.23 1225.09L411.94 1224.52L412.65 1223.95L413.35 1223.39L414.06 1222.82L414.77 1222.25L415.47 1221.68L416.18 1221.12L416.89 1220.55L417.60 1219.98L418.30 1219.42L419.01 1218.85L419.72 1218.28L420.43 1217.72L421.13 1217.15L421.84 1216.58L422.55 1216.02L423.26 1215.45L423.96 1214.88L424.67 1214.32L425.38 1213.75L426.09 1213.18L426.79 1212.62L427.50 1212.05L428.21 1211.49L428.92 1210.92L429.63 1210.35L430.33 1209.79L431.04 1209.22L431.75 1208.66L432.46 1208.09L433.16 1207.52L433.87 1206.96L434.58 1206.39L435.29 1205.83L436.00 1205.26L436.71 1204.70L437.41 1204.13L438.12 1203.56L438.83 1203.00L439.54 1202.43L440.25 1201.87L440.95 1201.30L441.66 1200.74L442.37 1200.17L443.08 1199.61L443.79 1199.04L444.50 1198.48L445.20 1197.91L445.91 1197.35L446.62 1196.78L447.33 1196.22L448.04 1195.65L448.75 1195.09L449.46 1194.52L450.16 1193.96L450.87 1193.39L451.58 1192.83L452.29 1192.26L453.00 1191.70L453.71 1191.13L454.42 1190.57L455.13 1190.00L455.84 1189.44L456.54 1188.88L457.25 1188.31L457.96 1187.75L458.67 1187.18L459.38 1186.62L460.09 1186.05L460.80 1185.49L461.51 1184.93L462.22 1184.36L462.93 1183.80L463.63 1183.23L464.34 1182.67L465.05 1182.11L465.76 1181.54L466.47 1180.98L467.18 1180.41L467.89 1179.85L468.60 1179.29L469.31 1178.72L470.02 1178.16L470.73 1177.60L471.44 1177.03L472.15 1176.47L472.86 1175.91L473.57 1175.34L474.28 1174.78L474.99 1174.22L475.70 1173.65L476.41 1173.09L477.11 1172.53L477.82 1171.96L478.53 1171.40L479.24 1170.84L479.95 1170.27L480.66 1169.71L481.37 1169.15L482.08 1168.59L482.79 1168.02L483.50 1167.46L484.21 1166.90L484.92 1166.33L485.63 1165.77L486.34 1165.21L487.05 1164.65L487.76 1164.08L488.47 1163.52L489.18 1162.96L489.89 1162.40L490.60 1161.83L491.31 1161.27L492.03 1160.71L492.74 1160.15L493.45 1159.58L494.16 1159.02L494.87 1158.46L495.58 1157.90L496.29 1157.34L497.00 1156.77L497.71 1156.21L498.42 1155.65L499.13 1155.09L499.84 1154.52L500.55 1153.96L501.26 1153.40L501.97 1152.84L502.68 1152.28L503.39 1151.72L504.10 1151.15L504.81 1150.59L505.53 1150.03L506.24 1149.47L506.95 1148.91L507.66 1148.35L508.37 1147.78L509.08 1147.22L509.79 1146.66L510.50 1146.10L511.21 1145.54L511.92 1144.98L512.64 1144.42L513.35 1143.85L514.06 1143.29L514.77 1142.73L515.48 1142.17L516.19 1141.61L516.90 1141.05L517.61 1140.49L518.32 1139.93L519.04 1139.37L519.75 1138.81L520.46 1138.24L521.17 1137.68L521.88 1137.12L522.59 1136.56L523.30 1136.00L524.02 1135.44L524.73 1134.88L525.44 1134.32L526.15 1133.76L526.86 1133.20L527.57 1132.64L528.29 1132.08L529.00 1131.52L529.71 1130.96L530.42 1130.40L531.13 1129.84L531.84 1129.28L532.56 1128.71L533.27 1128.15L533.98 1127.59L534.69 1127.03L535.40 1126.47L536.12 1125.91L536.83 1125.35L537.54 1124.79L538.25 1124.23L538.96 1123.67L539.68 1123.11L540.39 1122.55L541.10 1121.99L541.81 1121.43L542.52 1120.87L543.24 1120.31L543.95 1119.75L544.66 1119.20L545.37 1118.64L546.09 1118.08L546.80 1117.52L547.51 1116.96L548.22 1116.40L548.93 1115.84L549.65 1115.28L550.36 1114.72L551.07 1114.16L551.78 1113.60L552.50 1113.04L553.21 1112.48L553.92 1111.92L554.63 1111.36L555.35 1110.80L556.06 1110.24L556.77 1109.68L557.49 1109.13L558.20 1108.57L558.91 1108.01L559.62 1107.45L560.34 1106.89L561.05 1106.33L561.76 1105.77L562.47 1105.21L563.19 1104.65L563.90 1104.09L564.61 1103.54L565.33 1102.98L566.04 1102.42L566.75 1101.86L567.47 1101.30L568.18 1100.74L568.89 1100.18L569.61 1099.62L570.32 1099.07L571.03 1098.51L571.74 1097.95L572.46 1097.39L573.17 1096.83L573.88 1096.27L574.60 1095.72L575.31 1095.16L576.02 1094.60L576.74 1094.04L577.45 1093.48L578.16 1092.92L578.88 1092.37L579.59 1091.81L580.31 1091.25L581.02 1090.69L581.73 1090.13L582.45 1089.57L583.16 1089.02L583.87 1088.46L584.59 1087.90L585.30 1087.34L586.01 1086.78L586.73 1086.23L587.44 1085.67L588.16 1085.11L588.87 1084.55L589.58 1084.00L590.30 1083.44L591.01 1082.88L591.72 1082.32L592.44 1081.76L593.15 1081.21L593.87 1080.65L594.58 1080.09L595.29 1079.53L596.01 1078.98L596.72 1078.42L597.44 1077.86L598.15 1077.30L598.87 1076.75L599.58 1076.19L600.29 1075.63L601.01 1075.07L601.72 1074.52L602.44 1073.96L603.15 1073.40L603.87 1072.84L604.58 1072.29L605.29 1071.73L606.01 1071.17L606.72 1070.62L607.44 1070.06L608.15 1069.50L608.87 1068.94L609.58 1068.39L610.30 1067.83L611.01 1067.27L611.72 1066.72L612.44 1066.16L613.15 1065.60L613.87 1065.05L614.58 1064.49L615.30 1063.93L616.01 1063.38L616.73 1062.82L617.44 1062.26L618.16 1061.71L618.87 1061.15L619.59 1060.59L620.30 1060.03L621.02 1059.48L621.73 1058.92L622.45 1058.37L623.16 1057.81L623.88 1057.25L624.59 1056.70L625.31 1056.14L626.02 1055.58L626.74 1055.03L627.45 1054.47L628.17 1053.91L628.88 1053.36L629.60 1052.80L630.31 1052.24L631.03 1051.69L631.74 1051.13L632.46 1050.58L633.17 1050.02L633.89 1049.46L634.60 1048.91L635.32 1048.35L636.03 1047.79L636.75 1047.24L637.47 1046.68L638.18 1046.13L638.90 1045.57L639.61 1045.01L640.33 1044.46L641.04 1043.90L641.76 1043.35L642.47 1042.79L643.19 1042.23L643.91 1041.68L644.62 1041.12L645.34 1040.57L646.05 1040.01L646.77 1039.45L647.48 1038.90L648.20 1038.34L648.92 1037.79L649.63 1037.23L650.35 1036.68L651.06 1036.12L651.78 1035.56L652.50 1035.01L653.21 1034.45L653.93 1033.90L654.64 1033.34L655.36 1032.79L656.08 1032.23L656.79 1031.68L657.51 1031.12L658.22 1030.56L658.94 1030.01L659.66 1029.45L660.37 1028.90L661.09 1028.34L661.81 1027.79L662.52 1027.23L663.24 1026.68L663.95 1026.12L664.67 1025.57L665.39 1025.01L666.10 1024.45L666.82 1023.90L667.54 1023.34L668.25 1022.79L668.97 1022.23L669.69 1021.68L670.40 1021.12L671.12 1020.57L671.83 1020.01L672.55 1019.46L673.27 1018.90L673.98 1018.35L674.70 1017.79L675.42 1017.24L676.13 1016.68L676.85 1016.13L677.57 1015.57L678.29 1015.02L679.00 1014.46L679.72 1013.91L680.44 1013.35L681.15 1012.80L681.87 1012.24L682.59 1011.69L683.30 1011.13L684.02 1010.58L684.74 1010.02L685.45 1009.47L686.17 1008.92L686.89 1008.36L687.61 1007.81L688.32 1007.25L689.04 1006.70L689.76 1006.14L690.47 1005.59L691.19 1005.03L691.91 1004.48L692.63 1003.92L693.34 1003.37L694.06 1002.81L694.78 1002.26L695.49 1001.70L696.21 1001.15L696.93 1000.60L697.65 1000.04L698.36 999.49L699.08 998.93L699.80 998.38L700.52 997.82L701.23 997.27L701.95 996.71L702.67 996.16L703.39 995.61L704.10 995.05L704.82 994.50L705.54 993.94L706.26 993.39L706.97 992.83L707.69 992.28L708.41 991.73L709.13 991.17L709.85 990.62L710.56 990.06L711.28 989.51L712.00 988.95L712.72 988.40L713.43 987.85L714.15 987.29L714.87 986.74L715.59 986.18L716.31 985.63L717.02 985.08L717.74 984.52L718.46 983.97L719.18 983.41L719.90 982.86L720.61 982.31L721.33 981.75L722.05 981.20L722.77 980.64L723.49 980.09L724.20 979.54L724.92 978.98L725.64 978.43L726.36 977.87L727.08 977.32L727.80 976.77L728.51 976.21L729.23 975.66L729.95 975.10" stroke="#2e3192"/>
<path d="M134.45 1427.50L135.25 1427.50L136.04 1427.50L136.84 1427.50L137.63 1427.50L138.43 1427.50L139.23 1427.50L140.02 1427.50L140.82 1427.50L141.61 1427.50L142.41 1427.50L143.20 1427.50L144.00 1427.50L144.79 1427.50L145.59 1427.50L146.38 1427.50L147.18 1427.50L147.98 1427.50L148.77 1427.50L149.57 1427.50L150.36 1427.50L151.16 1427.50L151.95 1427.50L152.75 1427.50L153.54 1427.50L154.34 1427.50L155.13 1427.50L155.93 1427.50L156.72 1427.50L157.52 1427.50L158.31 1427.50L159.11 1427.50L159.90 1427.50L160.70 1427.50L161.49 1427.50L162.29 1427.50L163.08 1427.50L163.88 1427.50L164.67 1427.50L165.47 1427.50L166.26 1427.50L167.06 1427.50L167.85 1427.50L168.65 1427.50L169.44 1427.50L170.24 1427.50L171.03 1427.50L171.83 1427.50L172.62 1427.50L173.42 1427.50L174.21 1427.50L175.01 1427.50L175.80 1427.50L176.60 1427.50L177.39 1427.50L178.19 1427.50L178.98 1427.50L179.78 1427.50L180.57 1427.50L181.37 1427.50L182.16 1427.50L182.95 1427.50L183.75 1427.50L184.54 1427.50L185.34 1427.50L186.13 1427.50L186.93 1427.50L187.72 1427.50L188.52 1427.50L189.31 1427.50L190.11 1427.50L190.90 1427.50L191.70 1427.50L192.49 1427.50L193.28 1427.50L194.08 1427.50L194.87 1427.50L195.67 1427.50L196.46 1427.50L197.26 1427.50L198.05 1427.50L198.85 1427.50L199.64 1427.50L200.43 1427.50L201.23 1427.50L202.02 1427.50L202.82 1427.50L203.61 1427.50L204.41 1427.50L205.20 1427.50L205.99 1427.50L206.79 1427.50L207.58 1427.50L208.38 1427.50L209.17 1427.50L209.97 1427.50L210.76 1427.50L211.55 1427.50L212.35 1427.50L213.14 1427.50L213.94 1427.50L214.73 1427.50L215.53 1427.50L216.32 1427.50L217.11 1427.50L217.91 1427.50L218.70 1427.50L219.50 1427.50L220.29 1427.50L221.09 1427.50L221.88 1427.50L222.67 1427.50L223.47 1427.50L224.26 1427.50L225.06 1427.50L225.85 1427.50L226.64 1427.50L227.44 1427.50L228.23 1427.50L229.03 1427.50L229.82 1427.50L230.61 1427.50L231.41 1427.50L232.20 1427.50L233.00 1427.50L233.79 1427.50L234.59 1427.50L235.38 1427.50L236.17 1427.50L236.97 1427.50L237.76 1427.50L238.56 1427.50L239.35 1427.50L240.14 1427.50L240.94 1427.50L241.73 1427.50L242.53 1427.50L243.32 1427.50L244.11 1427.50L244.91 1427.50L245.70 1427.50L246.50 1427.50L247.29 1427.50L248.08 1427.50L248.88 1427.50L249.67 1427.50L250.47 1427.50L251.26 1427.50L252.06 1427.50L252.85 1427.50L253.64 1427.50L254.44 1427.50L255.23 1427.50L256.03 1427.50L256.82 1427.50L257.61 1427.50L258.41 1427.50L259.20 1427.50L260.00 1427.50L260.79 1427.49L261.58 1427.49L262.38 1427.49L263.17 1427.49L263.97 1427.49L264.76 1427.49L265.55 1427.49L266.35 1427.49L267.14 1427.49L267.94 1427.49L268.73 1427.49L269.52 1427.49L270.32 1427.49L271.11 1427.49L271.91 1427.49L272.70 1427.49L273.50 1427.49L274.29 1427.49L275.08 1427.49L275.88 1427.49L276.67 1427.49L277.47 1427.49L278.26 1427.49L279.05 1427.49L279.85 1427.49L280.64 1427.49L281.44 1427.49L282.23 1427.49L283.03 1427.49L283.82 1427.49L284.61 1427.49L285.41 1427.49L286.20 1427.49L287.00 1427.49L287.79 1427.49L288.58 1427.49L289.38 1427.49L290.17 1427.49L290.97 1427.49L291.76 1427.49L292.56 1427.49L293.35 1427.49L294.14 1427.49L294.94 1427.49L295.73 1427.49L296.53 1427.49L297.32 1427.49L298.12 1427.49L298.91 1427.49L299.70 1427.49L300.50 1427.49L301.29 1427.49L302.09 1427.49L302.88 1427.49L303.68 1427.49L304.47 1427.49L305.27 1427.49L306.06 1427.49L306.85 1427.49L307.65 1427.49L308.44 1427.49L309.24 1427.49L310.03 1427.49L310.83 1427.49L311.62 1427.49L312.42 1427.49L313.21 1427.49L314.00 1427.49L314.80 1427.49L315.59 1427.49L316.39 1427.49L317.18 1427.48L317.98 1427.48L318.77 1427.48L319.57 1427.48L320.36 1427.48L321.16 1427.48L321.95 1427.48L322.74 1427.48L323.54 1427.48L324.33 1427.48L325.13 1427.48L325.92 1427.48L326.72 1427.48L327.51 1427.48L328.31 1427.48L329.10 1427.48L329.90 1427.48L330.69 1427.48L331.49 1427.48L332.28 1427.48L333.08 1427.48L333.87 1427.48L334.67 1427.48L335.46 1427.48L336.26 1427.48L337.05 1427.48L337.85 1427.48L338.64 1427.48L339.44 1427.48L340.23 1427.48L341.03 1427.48L341.82 1427.48L342.62 1427.48L343.41 1427.48L344.21 1427.48L345.00 1427.48L345.80 1427.48L346.59 1427.48L347.39 1427.48L348.18 1427.48L348.98 1427.48L349.77 1427.48L350.57 1427.48L351.36 1427.48L352.16 1427.48L352.95 1427.48L353.75 1427.47L354.54 1427.47L355.34 1427.47L356.14 1427.47L356.93 1427.47L357.73 1427.47L358.52 1427.47L359.32 1427.47L360.11 1427.47L360.91 1427.47L361.70 1427.47L362.50 1427.47L363.29 1427.47L364.09 1427.47L364.89 1427.47L365.68 1427.47L366.48 1427.47L367.27 1427.47L368.07 1427.47L368.86 1427.47L369.66 1427.47L370.46 1427.47L371.25 1427.47L372.05 1427.47L372.84 1427.47L373.64 1427.47L374.43 1427.47L375.23 1427.47L376.03 1427.47L376.82 1427.47L377.62 1427.47L378.41 1427.47L379.21 1427.47L380.01 1427.47L380.80 1427.47L381.60 1427.47L382.39 1427.46L383.19 1427.46L383.99 1427.46L384.78 1427.46L385.58 1427.46L386.37 1427.46L387.17 1427.46L387.97 1427.46L388.76 1427.46L389.56 1427.46L390.35 1427.46L391.15 1427.46L391.94 1427.46L392.74 1427.46L393.53 1427.46L394.33 1427.46L395.12 1427.46L395.92 1427.46L396.71 1427.46L397.51 1427.46L398.30 1427.45L399.09 1427.45L399.89 1427.45L400.68 1427.45L401.47 1427.45L402.27 1427.45L403.06 1427.45L403.85 1427.45L404.64 1427.45L405.44 1427.45L406.23 1427.44L407.02 1427.44L407.81 1427.44L408.60 1427.44L409.39 1427.44L410.18 1427.44L410.97 1427.44L411.76 1427.43L412.55 1427.43L413.34 1427.43L414.13 1427.43L414.92 1427.43L415.70 1427.42L416.49 1427.42L417.28 1427.42L418.07 1427.42L418.85 1427.42L419.64 1427.41L420.42 1427.41L421.21 1427.41L421.99 1427.41L422.78 1427.40L423.56 1427.40L424.34 1427.40L425.10 1427.39L425.82 1427.39L426.47 1427.39L427.02 1427.38L427.45 1427.38L427.73 1427.37L427.83 1427.37L427.74 1427.36L427.42 1427.35L426.89 1427.34L426.20 1427.34L425.40 1427.33L424.51 1427.32L423.59 1427.31L422.68 1427.30L421.77 1427.30L420.87 1427.29L419.97 1427.29L419.09 1427.28L418.22 1427.28L417.36 1427.28L416.51 1427.27L415.67 1427.27L414.83 1427.26L414.01 1427.26L413.19 1427.26L412.38 1427.25L411.57 1427.25L410.77 1427.25L409.97 1427.24L409.18 1427.24L408.39 1427.23L407.60 1427.23L406.81 1427.23L406.03 1427.22L405.24 1427.22L404.46 1427.21L403.67 1427.21L402.89 1427.21L402.10 1427.20L401.32 1427.20L400.53 1427.20L399.74 1427.19L398.96 1427.19L398.17 1427.19L397.38 1427.18L396.59 1427.18L395.81 1427.17L395.02 1427.17L394.23 1427.17L393.44 1427.16L392.65 1427.16L391.86 1427.16L391.07 1427.15L390.28 1427.15L389.49 1427.14L388.70 1427.14L387.91 1427.14L387.12 1427.13L386.33 1427.13L385.54 1427.12L384.75 1427.12L383.96 1427.12L383.17 1427.11L382.37 1427.11L381.58 1427.11L380.79 1427.10L380.00 1427.10L379.20 1427.09L378.41 1427.09L377.62 1427.09L376.82 1427.08L376.03 1427.08L375.24 1427.07L374.44 1427.07L373.65 1427.07L372.86 1427.06L372.06 1427.06L371.27 1427.06L370.47 1427.05L369.68 1427.05L368.88 1427.04L368.09 1427.04L367.29 1427.04L366.50 1427.03L365.70 1427.03L364.91 1427.02L364.11 1427.02L363.32 1427.01L362.52 1427.01L361.73 1427.01L360.93 1427.00L360.13 1427.00L359.34 1426.99L358.54 1426.99L357.75 1426.99L356.95 1426.98L356.15 1426.98L355.36 1426.97L354.56 1426.97L353.77 1426.96L352.97 1426.96L352.17 1426.96L351.38 1426.95L350.58 1426.95L349.78 1426.94L348.99 1426.94L348.19 1426.93L347.39 1426.93L346.60 1426.92L345.80 1426.92L345.00 1426.91L344.21 1426.91L343.41 1426.91L342.61 1426.90L341.82 1426.90L341.02 1426.89L340.23 1426.89L339.43 1426.88L338.63 1426.88L337.84 1426.87L337.04 1426.87L336.24 1426.86L335.45 1426.86L334.65 1426.85L333.86 1426.85L333.06 1426.84L332.26 1426.84L331.47 1426.83L330.67 1426.83L329.88 1426.82L329.08 1426.82L328.29 1426.81L327.49 1426.81L326.70 1426.80L325.90 1426.80L325.10 1426.79L324.31 1426.79L323.52 1426.78L322.72 1426.77L321.93 1426.77L321.13 1426.76L320.34 1426.76L319.54 1426.75L318.75 1426.75L317.95 1426.74L317.16 1426.73L316.36 1426.73L315.57 1426.72L314.78 1426.72L313.98 1426.71L313.19 1426.70L312.39 1426.70L311.60 1426.69L310.81 1426.69L310.01 1426.68L309.22 1426.67L308.43 1426.67L307.63 1426.66L306.84 1426.65L306.04 1426.65L305.25 1426.64L304.46 1426.63L303.66 1426.63L302.87 1426.62L302.08 1426.61L301.28 1426.61L300.49 1426.60L299.70 1426.59L298.90 1426.58L298.11 1426.58L297.32 1426.57L296.52 1426.56L295.73 1426.55L294.94 1426.55L294.15 1426.54L293.35 1426.53L292.56 1426.52L291.77 1426.51L290.97 1426.50L290.18 1426.50L289.39 1426.49L288.59 1426.48L287.80 1426.47L287.01 1426.46L286.21 1426.45L285.42 1426.44L284.63 1426.43L283.84 1426.43L283.04 1426.42L282.25 1426.41L281.46 1426.40L280.66 1426.39L279.87 1426.38L279.08 1426.37L278.28 1426.36L277.49 1426.35L276.70 1426.34L275.90 1426.33L275.11 1426.32L274.32 1426.30L273.52 1426.29L272.73 1426.28L271.94 1426.27L271.14 1426.26L270.35 1426.25L269.56 1426.24L268.76 1426.23L267.97 1426.21L267.17 1426.20L266.38 1426.19L265.59 1426.18L264.79 1426.17L264.00 1426.15L263.21 1426.14L262.41 1426.13L261.62 1426.11L260.82 1426.10L260.03 1426.09L259.23 1426.07L258.44 1426.06L257.65 1426.05L256.85 1426.03L256.06 1426.02L255.26 1426.00L254.47 1425.99L253.67 1425.98L252.88 1425.96L252.08 1425.95L251.29 1425.93L250.49 1425.92L249.70 1425.90L248.90 1425.88L248.11 1425.87L247.31 1425.85L246.51 1425.84L245.72 1425.82L244.92 1425.80L244.13 1425.79L243.33 1425.77L242.53 1425.75L241.74 1425.74L240.94 1425.72L240.15 1425.70L239.35 1425.68L238.55 1425.67L237.76 1425.65L236.96 1425.63L236.16 1425.61L235.36 1425.59L234.57 1425.57L233.77 1425.55L232.97 1425.53L232.18 1425.51L231.38 1425.49L230.58 1425.47L229.78 1425.45L228.99 1425.42L228.19 1425.40L227.39 1425.38L226.60 1425.35L225.80 1425.33L225.01 1425.30L224.21 1425.28L223.41 1425.25L222.62 1425.22L221.82 1425.19L221.03 1425.16L220.23 1425.13L219.44 1425.10L218.64 1425.07L217.85 1425.04L217.06 1425.01L216.26 1424.97L215.47 1424.94L214.68 1424.90L213.88 1424.86L213.09 1424.82L212.30 1424.78L211.51 1424.74L210.72 1424.70L209.93 1424.66L209.14 1424.61L208.35 1424.57L207.56 1424.52L206.77 1424.47L205.99 1424.42L205.20 1424.37L204.41 1424.32L203.63 1424.27L202.84 1424.21L202.06 1424.16L201.27 1424.10L200.49 1424.04L199.71 1423.98L198.93 1423.92L198.15 1423.86L197.37 1423.79L196.59 1423.72L195.81 1423.65L195.03 1423.58L194.25 1423.51L193.47 1423.44L192.69 1423.36L191.91 1423.29L191.13 1423.21L190.35 1423.13L189.56 1423.05L188.76 1422.97L187.96 1422.89L187.16 1422.81L186.34 1422.72L185.52 1422.64L184.69 1422.55L183.86 1422.47L183.01 1422.38L182.15 1422.29L181.29 1422.20L180.44 1422.10L179.59 1421.98L178.75 1421.84L177.94 1421.68L177.15 1421.49L176.38 1421.27L175.66 1421.01L174.97 1420.71L174.33 1420.36L173.75 1419.96L173.22 1419.51L172.76 1419.00L172.36 1418.44L172.03 1417.81L171.76 1417.14L171.55 1416.44L171.41 1415.70L171.33 1414.93L171.30 1414.15L171.33 1413.36L171.41 1412.56L171.55 1411.76L171.74 1410.98L171.98 1410.22L172.27 1409.47L172.60 1408.76L172.97 1408.07L173.38 1407.39L173.83 1406.74L174.30 1406.10L174.79 1405.48L175.30 1404.87L175.83 1404.27L176.37 1403.68L176.92 1403.09L177.47 1402.51L178.02 1401.93L178.57 1401.35L179.13 1400.77L179.69 1400.20L180.25 1399.63L180.81 1399.06L181.37 1398.49L181.94 1397.93L182.51 1397.37L183.08 1396.81L183.65 1396.25L184.22 1395.70L184.80 1395.15L185.37 1394.60L185.95 1394.05L186.53 1393.50L187.11 1392.96L187.70 1392.42L188.28 1391.88L188.87 1391.34L189.46 1390.81L190.04 1390.27L190.63 1389.74L191.23 1389.21L191.82 1388.68L192.41 1388.15L193.01 1387.62L193.60 1387.10L194.20 1386.58L194.80 1386.05L195.40 1385.53L196.00 1385.01L196.60 1384.49L197.20 1383.98L197.81 1383.46L198.41 1382.95L199.02 1382.43L199.62 1381.92L200.23 1381.41L200.83 1380.89L201.44 1380.38L202.05 1379.87L202.66 1379.36L203.27 1378.86L203.88 1378.35L204.49 1377.84L205.10 1377.33L205.71 1376.83L206.32 1376.32L206.93 1375.81L207.54 1375.31L208.16 1374.80L208.77 1374.30L209.38 1373.79L209.99 1373.29L210.61 1372.78L211.22 1372.28L211.83 1371.78L212.45 1371.27L213.06 1370.77L213.68 1370.27L214.29 1369.76L214.90 1369.26L215.52 1368.76L216.13 1368.26L216.75 1367.76L217.37 1367.25L217.98 1366.75L218.60 1366.25L219.21 1365.75L219.83 1365.25L220.45 1364.75L221.06 1364.25L221.68 1363.75L222.30 1363.25L222.92 1362.75L223.53 1362.25L224.15 1361.75L224.77 1361.26L225.39 1360.76L226.01 1360.26L226.62 1359.76L227.24 1359.26L227.86 1358.77L228.48 1358.27L229.10 1357.77L229.72 1357.28L230.34 1356.78L230.96 1356.28L231.58 1355.79L232.20 1355.29L232.82 1354.80L233.44 1354.30L234.06 1353.80L234.68 1353.31L235.30 1352.81L235.93 1352.32L236.55 1351.82L237.17 1351.33L237.79 1350.84L238.41 1350.34L239.03 1349.85L239.66 1349.35L240.28 1348.86L240.90 1348.37L241.52 1347.87L242.15 1347.38L242.77 1346.89L243.39 1346.39L244.02 1345.90L244.64 1345.41L245.26 1344.92L245.88 1344.42L246.51 1343.93L247.13 1343.44L247.76 1342.95L248.38 1342.46L249.00 1341.96L249.63 1341.47L250.25 1340.98L250.88 1340.49L251.50 1340.00L252.13 1339.51L252.75 1339.02L253.37 1338.53L254.00 1338.03L254.62 1337.54L255.25 1337.05L255.87 1336.56L256.50 1336.07L257.13 1335.58L257.75 1335.09L258.38 1334.60L259.00 1334.11L259.63 1333.62L260.25 1333.13L260.88 1332.64L261.50 1332.15L262.13 1331.66L262.76 1331.17L263.38 1330.69L264.01 1330.20L264.63 1329.71L265.26 1329.22L265.89 1328.73L266.51 1328.24L267.14 1327.75L267.76 1327.26L268.39 1326.77L269.02 1326.28L269.64 1325.79L270.27 1325.31L270.90 1324.82L271.52 1324.33L272.15 1323.84L272.78 1323.35L273.40 1322.86L274.03 1322.37L274.66 1321.89L275.28 1321.40L275.91 1320.91L276.54 1320.42L277.16 1319.93L277.79 1319.44L278.42 1318.95L279.04 1318.47L279.67 1317.98L280.30 1317.49L280.92 1317.00L281.55 1316.51L282.18 1316.02L282.80 1315.54L283.43 1315.05L284.06 1314.56L284.69 1314.07L285.31 1313.58L285.94 1313.10L286.57 1312.61L287.19 1312.12L287.82 1311.63L288.45 1311.14L289.07 1310.66L289.70 1310.17L290.33 1309.68L290.95 1309.19L291.58 1308.70L292.21 1308.22L292.84 1307.73L293.46 1307.24L294.09 1306.75L294.72 1306.26L295.34 1305.78L295.97 1305.29L296.60 1304.80L297.23 1304.31L297.85 1303.82L298.48 1303.34L299.11 1302.85L299.73 1302.36L300.36 1301.87L300.99 1301.39L301.62 1300.90L302.24 1300.41L302.87 1299.92L303.50 1299.43L304.13 1298.95L304.75 1298.46L305.38 1297.97L306.01 1297.48L306.63 1297.00L307.26 1296.51L307.89 1296.02L308.52 1295.53L309.14 1295.05L309.77 1294.56L310.40 1294.07L311.03 1293.58L311.65 1293.10L312.28 1292.61L312.91 1292.12L313.54 1291.63L314.16 1291.15L314.79 1290.66L315.42 1290.17L316.05 1289.69L316.67 1289.20L317.30 1288.71L317.93 1288.22L318.56 1287.74L319.18 1287.25L319.81 1286.76L320.44 1286.27L321.07 1285.79L321.69 1285.30L322.32 1284.81L322.95 1284.33L323.58 1283.84L324.21 1283.35L324.83 1282.86L325.46 1282.38L326.09 1281.89L326.72 1281.40L327.34 1280.92L327.97 1280.43L328.60 1279.94L329.23 1279.46L329.86 1278.97L330.48 1278.48L331.11 1278.00L331.74 1277.51L332.37 1277.02L332.99 1276.53L333.62 1276.05L334.25 1275.56L334.88 1275.07L335.51 1274.59L336.13 1274.10L336.76 1273.61L337.39 1273.13L338.02 1272.64L338.65 1272.15L339.27 1271.67L339.90 1271.18L340.53 1270.69L341.16 1270.21L341.79 1269.72L342.41 1269.23L343.04 1268.75L343.67 1268.26L344.30 1267.77L344.93 1267.29L345.55 1266.80L346.18 1266.31L346.81 1265.83L347.44 1265.34L348.07 1264.85L348.69 1264.37L349.32 1263.88L349.95 1263.39L350.58 1262.91L351.21 1262.42L351.83 1261.94L352.46 1261.45L353.09 1260.96L353.72 1260.48L354.35 1259.99L354.98 1259.50L355.60 1259.02L356.23 1258.53L356.86 1258.04L357.49 1257.56L358.12 1257.07L358.75 1256.59L359.37 1256.10L360.00 1255.61L360.63 1255.13L361.26 1254.64L361.89 1254.16L362.52 1253.67L363.14 1253.18L363.77 1252.70L364.40 1252.21L365.03 1251.72L365.66 1251.24L366.29 1250.75L366.91 1250.27L367.54 1249.78L368.17 1249.29L368.80 1248.81L369.43 1248.32L370.06 1247.84L370.68 1247.35L371.31 1246.86L371.94 1246.38L372.57 1245.89L373.20 1245.41L373.83 1244.92L374.46 1244.43L375.08 1243.95L375.71 1243.46L376.34 1242.98L376.97 1242.49L377.60 1242.00L378.23 1241.52L378.86 1241.03L379.48 1240.55L380.11 1240.06L380.74 1239.58L381.37 1239.09L382.00 1238.60L382.63 1238.12L383.26 1237.63L383.88 1237.15L384.51 1236.66L385.14 1236.18L385.77 1235.69L386.40 1235.20L387.03 1234.72L387.66 1234.23L388.29 1233.75L388.91 1233.26L389.54 1232.78L390.17 1232.29L390.80 1231.80L391.43 1231.32L392.06 1230.83L392.69 1230.35L393.32 1229.86L393.94 1229.38L394.57 1228.89L395.20 1228.41L395.83 1227.92L396.46 1227.43L397.09 1226.95L397.72 1226.46L398.35 1225.98L398.98 1225.49L399.60 1225.01L400.23 1224.52L400.86 1224.04L401.49 1223.55L402.12 1223.07L402.75 1222.58L403.38 1222.10L404.01 1221.61L404.64 1221.12L405.26 1220.64L405.89 1220.15L406.52 1219.67L407.15 1219.18L407.78 1218.70L408.41 1218.21L409.04 1217.73L409.67 1217.24L410.30 1216.76L410.92 1216.27L411.55 1215.79L412.18 1215.30L412.81 1214.82L413.44 1214.33L414.07 1213.85L414.70 1213.36L415.33 1212.88L415.96 1212.39L416.59 1211.90L417.22 1211.42L417.84 1210.93L418.47 1210.45L419.10 1209.96L419.73 1209.48L420.36 1208.99L420.99 1208.51L421.62 1208.02L422.25 1207.54L422.88 1207.05L423.51 1206.57L424.14 1206.08L424.77 1205.60L425.39 1205.11L426.02 1204.63L426.65 1204.14L427.28 1203.66L427.91 1203.17L428.54 1202.69L429.17 1202.20L429.80 1201.72L430.43 1201.23L431.06 1200.75L431.69 1200.26L432.32 1199.78L432.95 1199.29L433.57 1198.81L434.20 1198.32L434.83 1197.84L435.46 1197.35L436.09 1196.87L436.72 1196.39L437.35 1195.90L437.98 1195.42L438.61 1194.93L439.24 1194.45L439.87 1193.96L440.50 1193.48L441.13 1192.99L441.76 1192.51L442.38 1192.02L443.01 1191.54L443.64 1191.05L444.27 1190.57L444.90 1190.08L445.53 1189.60L446.16 1189.11L446.79 1188.63L447.42 1188.14L448.05 1187.66L448.68 1187.17L449.31 1186.69L449.94 1186.21L450.57 1185.72L451.20 1185.24L451.83 1184.75L452.46 1184.27L453.08 1183.78L453.71 1183.30L454.34 1182.81L454.97 1182.33L455.60 1181.84L456.23 1181.36L456.86 1180.87L457.49 1180.39L458.12 1179.91L458.75 1179.42L459.38 1178.94L460.01 1178.45L460.64 1177.97L461.27 1177.48L461.90 1177.00L462.53 1176.51L463.16 1176.03L463.79 1175.54L464.42 1175.06L465.05 1174.58L465.68 1174.09L466.30 1173.61L466.93 1173.12L467.56 1172.64L468.19 1172.15L468.82 1171.67L469.45 1171.18L470.08 1170.70L470.71 1170.22L471.34 1169.73L471.97 1169.25L472.60 1168.76L473.23 1168.28L473.86 1167.79L474.49 1167.31L475.12 1166.82L475.75 1166.34L476.38 1165.86L477.01 1165.37L477.64 1164.89L478.27 1164.40L478.90 1163.92L479.53 1163.43L480.16 1162.95L480.79 1162.46L481.42 1161.98L482.05 1161.50L482.68 1161.01L483.30 1160.53L483.93 1160.04L484.56 1159.56L485.19 1159.07L485.82 1158.59L486.45 1158.11L487.08 1157.62L487.71 1157.14L488.34 1156.65L488.97 1156.17L489.60 1155.68L490.23 1155.20L490.86 1154.72L491.49 1154.23L492.12 1153.75L492.75 1153.26L493.38 1152.78L494.01 1152.30L494.64 1151.81L495.27 1151.33L495.90 1150.84L496.53 1150.36L497.16 1149.87L497.79 1149.39L498.42 1148.91L499.05 1148.42L499.68 1147.94L500.31 1147.45L500.94 1146.97L501.57 1146.48L502.20 1146.00L502.83 1145.52L503.46 1145.03L504.09 1144.55L504.72 1144.06L505.35 1143.58L505.98 1143.10L506.61 1142.61L507.24 1142.13L507.87 1141.64L508.50 1141.16L509.13 1140.67L509.76 1140.19L510.39 1139.71L511.02 1139.22L511.65 1138.74L512.27 1138.25L512.90 1137.77L513.53 1137.29L514.16 1136.80L514.79 1136.32L515.42 1135.83L516.05 1135.35L516.68 1134.87L517.31 1134.38L517.94 1133.90L518.57 1133.41L519.20 1132.93L519.83 1132.45L520.46 1131.96L521.09 1131.48L521.72 1130.99L522.35 1130.51L522.98 1130.02L523.61 1129.54L524.24 1129.06L524.87 1128.57L525.50 1128.09L526.13 1127.60L526.76 1127.12L527.39 1126.64L528.02 1126.15L528.65 1125.67L529.28 1125.18L529.91 1124.70L530.54 1124.22L531.17 1123.73L531.80 1123.25L532.43 1122.76L533.06 1122.28L533.69 1121.80L534.32 1121.31L534.95 1120.83L535.58 1120.34L536.21 1119.86L536.84 1119.38L537.47 1118.89L538.10 1118.41L538.73 1117.92L539.36 1117.44L539.99 1116.96L540.62 1116.47L541.25 1115.99L541.88 1115.50L542.51 1115.02L543.14 1114.54L543.77 1114.05L544.40 1113.57L545.03 1113.08L545.66 1112.60L546.29 1112.12L546.92 1111.63L547.55 1111.15L548.18 1110.66L548.81 1110.18L549.44 1109.70L550.07 1109.21L550.70 1108.73L551.33 1108.24L551.96 1107.76L552.59 1107.28L553.22 1106.79L553.85 1106.31L554.48 1105.82L555.11 1105.34L555.74 1104.86L556.37 1104.37L557.00 1103.89L557.63 1103.41L558.26 1102.92L558.89 1102.44L559.52 1101.95L560.15 1101.47L560.78 1100.99L561.41 1100.50L562.04 1100.02L562.67 1099.53L563.30 1099.05L563.93 1098.57L564.56 1098.08L565.19 1097.60L565.82 1097.11L566.45 1096.63L567.08 1096.15L567.71 1095.66L568.34 1095.18L568.97 1094.69L569.60 1094.21L570.23 1093.73L570.86 1093.24L571.49 1092.76L572.12 1092.27L572.75 1091.79L573.38 1091.31L574.01 1090.82L574.64 1090.34L575.27 1089.85L575.90 1089.37L576.53 1088.89L577.16 1088.40L577.79 1087.92L578.42 1087.43L579.05 1086.95L579.68 1086.47L580.31 1085.98L580.94 1085.50L581.57 1085.01L582.20 1084.53L582.83 1084.05L583.46 1083.56L584.09 1083.08L584.72 1082.59L585.35 1082.11L585.98 1081.63L586.61 1081.14L587.24 1080.66L587.87 1080.17L588.50 1079.69L589.13 1079.21L589.76 1078.72L590.39 1078.24L591.02 1077.75L591.65 1077.27L592.28 1076.79L592.91 1076.30L593.54 1075.82L594.17 1075.33L594.80 1074.85L595.43 1074.37L596.06 1073.88L596.69 1073.40L597.32 1072.91L597.95 1072.43L598.58 1071.95L599.21 1071.46L599.84 1070.98L600.47 1070.49L601.10 1070.01L601.73 1069.53L602.36 1069.04L602.99 1068.56L603.62 1068.07L604.25 1067.59L604.88 1067.11L605.51 1066.62L606.14 1066.14L606.77 1065.65L607.40 1065.17L608.03 1064.69L608.66 1064.20L609.29 1063.72L609.92 1063.23L610.55 1062.75L611.18 1062.27L611.81 1061.78L612.44 1061.30L613.07 1060.81L613.70 1060.33L614.33 1059.85L614.96 1059.36L615.59 1058.88L616.22 1058.39L616.85 1057.91L617.48 1057.42L618.11 1056.94L618.74 1056.46L619.37 1055.97L620.00 1055.49L620.63 1055.00L621.26 1054.52L621.89 1054.04L622.52 1053.55L623.15 1053.07L623.78 1052.58L624.41 1052.10L625.04 1051.62L625.67 1051.13L626.30 1050.65L626.93 1050.16L627.56 1049.68L628.19 1049.19L628.82 1048.71L629.45 1048.23L630.08 1047.74L630.71 1047.26L631.34 1046.77L631.97 1046.29L632.60 1045.81L633.22 1045.32L633.85 1044.84L634.48 1044.35L635.11 1043.87L635.74 1043.38L636.37 1042.90L637.00 1042.42L637.63 1041.93L638.26 1041.45L638.89 1040.96L639.52 1040.48L640.15 1039.99L640.78 1039.51L641.41 1039.03L642.04 1038.54L642.67 1038.06L643.30 1037.57L643.93 1037.09L644.56 1036.60L645.19 1036.12L645.82 1035.64L646.45 1035.15L647.08 1034.67L647.71 1034.18L648.34 1033.70L648.97 1033.21L649.60 1032.73L650.23 1032.25L650.86 1031.76L651.49 1031.28L652.12 1030.79L652.75 1030.31L653.38 1029.82L654.01 1029.34L654.64 1028.86L655.27 1028.37L655.90 1027.89L656.53 1027.40L657.16 1026.92L657.79 1026.43L658.42 1025.95L659.05 1025.46L659.68 1024.98L660.31 1024.50L660.94 1024.01L661.57 1023.53L662.19 1023.04L662.82 1022.56L663.45 1022.07L664.08 1021.59L664.71 1021.10L665.34 1020.62L665.97 1020.14L666.60 1019.65L667.23 1019.17L667.86 1018.68L668.49 1018.20L669.12 1017.71L669.75 1017.23L670.38 1016.74L671.01 1016.26L671.64 1015.77L672.27 1015.29L672.90 1014.81L673.53 1014.32L674.16 1013.84L674.79 1013.35L675.42 1012.87L676.05 1012.38L676.68 1011.90L677.31 1011.41L677.94 1010.93L678.57 1010.44L679.19 1009.96L679.82 1009.47L680.45 1008.99L681.08 1008.51L681.71 1008.02L682.34 1007.54L682.97 1007.05L683.60 1006.57L684.23 1006.08L684.86 1005.60L685.49 1005.11L686.12 1004.63L686.75 1004.14L687.38 1003.66L688.01 1003.17L688.64 1002.69L689.27 1002.20L689.90 1001.72L690.53 1001.23L691.16 1000.75L691.79 1000.26L692.41 999.78L693.04 999.29L693.67 998.81L694.30 998.32L694.93 997.84L695.56 997.36L696.19 996.87L696.82 996.39L697.45 995.90L698.08 995.42L698.71 994.93L699.34 994.45L699.97 993.96L700.60 993.48L701.23 992.99L701.86 992.51L702.49 992.02L703.11 991.54L703.74 991.05L704.37 990.57L705.00 990.08L705.63 989.60L706.26 989.11L706.89 988.63L707.52 988.14L708.15 987.66L708.78 987.17L709.41 986.69L710.04 986.20L710.67 985.72L711.30 985.23L711.93 984.75L712.55 984.26L713.18 983.78L713.81 983.29L714.44 982.81L715.07 982.32L715.70 981.83L716.33 981.35L716.96 980.86L717.59 980.38L718.22 979.89L718.85 979.41L719.48 978.92L720.11 978.44L720.73 977.95L721.36 977.47L721.99 976.98L722.62 976.50L723.25 976.01L723.88 975.53L724.51 975.04L725.14 974.56L725.77 974.07L726.40 973.59L727.03 973.10L727.65 972.61L728.28 972.13" stroke="#457a5d"/>
<path d="M134.84 1427.50L135.45 1427.50L136.05 1427.50L136.65 1427.50L137.26 1427.50L137.86 1427.50L138.46 1427.50L139.07 1427.50L139.67 1427.50L140.28 1427.50L140.88 1427.50L141.49 1427.50L142.09 1427.50L142.70 1427.50L143.30 1427.50L143.91 1427.50L144.52 1427.50L145.12 1427.50L145.73 1427.50L146.34 1427.50L146.94 1427.50L147.55 1427.50L148.16 1427.50L148.77 1427.50L149.37 1427.50L149.98 1427.50L150.59 1427.50L151.20 1427.50L151.81 1427.50L152.42 1427.50L153.02 1427.50L153.63 1427.50L154.24 1427.50L154.85 1427.50L155.46 1427.50L156.07 1427.50L156.68 1427.50L157.29 1427.50L157.90 1427.50L158.51 1427.50L159.12 1427.50L159.73 1427.50L160.34 1427.50L160.95 1427.50L161.56 1427.50L162.17 1427.50L162.78 1427.50L163.39 1427.50L164.00 1427.50L164.61 1427.50L165.22 1427.50L165.83 1427.50L166.44 1427.50L167.05 1427.50L167.67 1427.50L168.28 1427.50L168.89 1427.50L169.50 1427.50L170.11 1427.50L170.72 1427.50L171.33 1427.50L171.94 1427.50L172.55 1427.50L173.17 1427.50L173.78 1427.50L174.39 1427.50L175.00 1427.50L175.61 1427.50L176.22 1427.50L176.83 1427.50L177.45 1427.50L178.06 1427.50L178.67 1427.50L179.28 1427.50L179.89 1427.50L180.50 1427.50L181.11 1427.50L181.72 1427.50L182.34 1427.50L182.95 1427.50L183.56 1427.50L184.17 1427.50L184.78 1427.50L185.39 1427.50L186.00 1427.50L186.61 1427.50L187.22 1427.50L187.84 1427.50L188.45 1427.50L189.06 1427.50L189.67 1427.50L190.28 1427.50L190.89 1427.50L191.50 1427.50L192.11 1427.50L192.72 1427.50L193.33 1427.50L193.94 1427.50L194.55 1427.50L195.16 1427.50L195.77 1427.50L196.38 1427.50L196.99 1427.50L197.60 1427.50L198.20 1427.50L198.81 1427.50L199.42 1427.50L200.03 1427.50L200.64 1427.50L201.25 1427.50L201.86 1427.50L202.46 1427.50L203.07 1427.50L203.68 1427.50L204.29 1427.50L204.89 1427.50L205.50 1427.50L206.11 1427.50L206.72 1427.50L207.32 1427.50L207.93 1427.50L208.53 1427.50L209.14 1427.50L209.75 1427.50L210.35 1427.50L210.96 1427.50L211.56 1427.50L212.17 1427.50L212.77 1427.50L213.38 1427.50L213.98 1427.50L214.59 1427.50L215.19 1427.50L215.79 1427.50L216.40 1427.50L217.00 1427.50L217.61 1427.50L218.21 1427.50L218.81 1427.50L219.42 1427.50L220.02 1427.50L220.63 1427.50L221.23 1427.50L221.84 1427.50L222.44 1427.50L223.05 1427.50L223.65 1427.50L224.26 1427.50L224.87 1427.50L225.47 1427.50L226.08 1427.50L226.69 1427.50L227.30 1427.50L227.91 1427.50L228.52 1427.50L229.13 1427.50L229.74 1427.50L230.35 1427.50L230.97 1427.50L231.58 1427.50L232.19 1427.50L232.81 1427.49L233.43 1427.49L234.04 1427.49L234.66 1427.49L235.28 1427.49L235.90 1427.49L236.53 1427.49L237.15 1427.49L237.77 1427.49L238.40 1427.49L239.03 1427.49L239.65 1427.49L240.28 1427.49L240.91 1427.49L241.55 1427.49L242.18 1427.49L242.81 1427.49L243.44 1427.49L244.07 1427.49L244.70 1427.49L245.33 1427.49L245.96 1427.49L246.59 1427.49L247.22 1427.49L247.84 1427.49L248.46 1427.49L249.08 1427.49L249.70 1427.49L250.31 1427.49L250.92 1427.49L251.52 1427.49L252.12 1427.49L252.72 1427.49L253.29 1427.49L253.82 1427.49L254.30 1427.49L254.70 1427.49L255.01 1427.49L255.22 1427.49L255.29 1427.49L255.23 1427.48L255.04 1427.48L254.73 1427.48L254.33 1427.48L253.85 1427.48L253.31 1427.48L252.73 1427.47L252.13 1427.47L251.52 1427.47L250.91 1427.47L250.30 1427.47L249.69 1427.47L249.09 1427.46L248.48 1427.46L247.87 1427.46L247.26 1427.46L246.65 1427.46L246.04 1427.46L245.43 1427.46L244.82 1427.45L244.21 1427.45L243.60 1427.45L242.99 1427.45L242.38 1427.45L241.77 1427.45L241.16 1427.45L240.55 1427.45L239.94 1427.45L239.33 1427.44L238.72 1427.44L238.11 1427.44L237.50 1427.44L236.89 1427.44L236.28 1427.44L235.67 1427.44L235.06 1427.44L234.45 1427.44L233.83 1427.44L233.22 1427.44L232.61 1427.44L232.00 1427.44L231.39 1427.43L230.78 1427.43L230.17 1427.43L229.56 1427.43L228.95 1427.43L228.34 1427.43L227.72 1427.43L227.11 1427.43L226.50 1427.43L225.89 1427.43L225.28 1427.43L224.67 1427.43L224.06 1427.43L223.45 1427.43L222.84 1427.43L222.22 1427.42L221.61 1427.42L221.00 1427.42L220.39 1427.42L219.78 1427.42L219.17 1427.42L218.56 1427.42L217.95 1427.42L217.33 1427.42L216.72 1427.42L216.11 1427.42L215.50 1427.42L214.89 1427.41L214.28 1427.41L213.67 1427.41L213.06 1427.41L212.45 1427.41L211.84 1427.41L211.23 1427.41L210.61 1427.41L210.00 1427.40L209.39 1427.40L208.78 1427.40L208.17 1427.40L207.56 1427.40L206.95 1427.40L206.34 1427.40L205.73 1427.39L205.12 1427.39L204.51 1427.39L203.90 1427.39L203.29 1427.39L202.68 1427.38L202.07 1427.38L201.46 1427.38L200.85 1427.38L200.24 1427.37L199.63 1427.37L199.03 1427.37L198.42 1427.37L197.81 1427.36L197.20 1427.36L196.59 1427.36L195.98 1427.36L195.37 1427.35L194.76 1427.35L194.16 1427.35L193.55 1427.34L192.94 1427.34L192.33 1427.34L191.72 1427.33L191.11 1427.33L190.51 1427.33L189.90 1427.32L189.29 1427.32L188.68 1427.32L188.07 1427.31L187.47 1427.31L186.86 1427.30L186.25 1427.30L185.64 1427.30L185.03 1427.29L184.43 1427.29L183.82 1427.28L183.21 1427.28L182.60 1427.27L182.00 1427.27L181.39 1427.26L180.78 1427.26L180.17 1427.26L179.56 1427.25L178.96 1427.25L178.35 1427.24L177.74 1427.24L177.13 1427.23L176.52 1427.22L175.91 1427.22L175.31 1427.21L174.70 1427.21L174.09 1427.20L173.48 1427.20L172.87 1427.19L172.26 1427.19L171.65 1427.18L171.05 1427.18L170.44 1427.17L169.83 1427.16L169.22 1427.16L168.61 1427.15L168.00 1427.15L167.39 1427.14L166.78 1427.13L166.17 1427.13L165.56 1427.12L164.95 1427.11L164.34 1427.11L163.73 1427.10L163.12 1427.09L162.51 1427.09L161.90 1427.08L161.28 1427.07L160.67 1427.07L160.06 1427.06L159.45 1427.05L158.84 1427.05L158.23 1427.04L157.61 1427.03L157.00 1427.02L156.38 1427.00L155.76 1426.98L155.13 1426.96L154.50 1426.92L153.86 1426.88L153.21 1426.83L152.55 1426.76L151.90 1426.68L151.26 1426.58L150.63 1426.46L150.03 1426.32L149.46 1426.16L148.93 1425.96L148.45 1425.74L148.01 1425.48L147.64 1425.19L147.33 1424.86L147.10 1424.49L146.94 1424.08L146.85 1423.64L146.82 1423.18L146.85 1422.70L146.94 1422.19L147.09 1421.68L147.28 1421.17L147.51 1420.65L147.79 1420.13L148.10 1419.63L148.44 1419.14L148.82 1418.67L149.22 1418.22L149.64 1417.77L150.08 1417.34L150.53 1416.92L151.00 1416.50L151.47 1416.09L151.95 1415.69L152.43 1415.29L152.91 1414.88L153.39 1414.48L153.87 1414.08L154.35 1413.69L154.82 1413.29L155.30 1412.89L155.78 1412.50L156.26 1412.10L156.73 1411.71L157.21 1411.32L157.69 1410.93L158.17 1410.54L158.64 1410.15L159.12 1409.76L159.60 1409.37L160.07 1408.99L160.55 1408.60L161.02 1408.22L161.50 1407.83L161.98 1407.45L162.45 1407.06L162.93 1406.68L163.40 1406.30L163.88 1405.92L164.36 1405.54L164.83 1405.16L165.31 1404.78L165.78 1404.40L166.26 1404.02L166.74 1403.64L167.21 1403.26L167.69 1402.88L168.16 1402.51L168.64 1402.13L169.12 1401.75L169.59 1401.38L170.07 1401.00L170.55 1400.62L171.02 1400.24L171.50 1399.87L171.98 1399.49L172.45 1399.11L172.93 1398.74L173.41 1398.36L173.89 1397.99L174.36 1397.61L174.84 1397.23L175.32 1396.86L175.80 1396.48L176.27 1396.11L176.75 1395.73L177.23 1395.35L177.71 1394.98L178.19 1394.60L178.67 1394.23L179.14 1393.85L179.62 1393.48L180.10 1393.10L180.58 1392.73L181.06 1392.35L181.54 1391.98L182.02 1391.60L182.50 1391.23L182.98 1390.85L183.45 1390.48L183.93 1390.10L184.41 1389.73L184.89 1389.35L185.37 1388.98L185.85 1388.60L186.33 1388.23L186.81 1387.86L187.29 1387.48L187.77 1387.11L188.25 1386.73L188.73 1386.36L189.21 1385.99L189.69 1385.61L190.17 1385.24L190.65 1384.86L191.13 1384.49L191.62 1384.12L192.10 1383.74L192.58 1383.37L193.06 1383.00L193.54 1382.62L194.02 1382.25L194.50 1381.87L194.98 1381.50L195.46 1381.13L195.94 1380.76L196.43 1380.38L196.91 1380.01L197.39 1379.64L197.87 1379.26L198.35 1378.89L198.83 1378.52L199.31 1378.14L199.80 1377.77L200.28 1377.40L200.76 1377.02L201.24 1376.65L201.72 1376.28L202.20 1375.91L202.69 1375.53L203.17 1375.16L203.65 1374.79L204.13 1374.42L204.62 1374.04L205.10 1373.67L205.58 1373.30L206.06 1372.93L206.54 1372.55L207.03 1372.18L207.51 1371.81L207.99 1371.44L208.47 1371.06L208.96 1370.69L209.44 1370.32L209.92 1369.95L210.40 1369.58L210.89 1369.20L211.37 1368.83L211.85 1368.46L212.33 1368.09L212.82 1367.71L213.30 1367.34L213.78 1366.97L214.27 1366.60L214.75 1366.23L215.23 1365.85L215.71 1365.48L216.20 1365.11L216.68 1364.74L217.16 1364.37L217.65 1364.00L218.13 1363.62L218.61 1363.25L219.10 1362.88L219.58 1362.51L220.06 1362.14L220.54 1361.76L221.03 1361.39L221.51 1361.02L221.99 1360.65L222.48 1360.28L222.96 1359.91L223.44 1359.53L223.93 1359.16L224.41 1358.79L224.89 1358.42L225.37 1358.05L225.86 1357.67L226.34 1357.30L226.82 1356.93L227.31 1356.56L227.79 1356.19L228.27 1355.82L228.76 1355.44L229.24 1355.07L229.72 1354.70L230.21 1354.33L230.69 1353.96L231.17 1353.59L231.66 1353.21L232.14 1352.84L232.62 1352.47L233.10 1352.10L233.59 1351.73L234.07 1351.36L234.55 1350.98L235.04 1350.61L235.52 1350.24L236.00 1349.87L236.49 1349.50L236.97 1349.12L237.45 1348.75L237.94 1348.38L238.42 1348.01L238.90 1347.64L239.38 1347.27L239.87 1346.89L240.35 1346.52L240.83 1346.15L241.32 1345.78L241.80 1345.41L242.28 1345.04L242.77 1344.66L243.25 1344.29L243.73 1343.92L244.22 1343.55L244.70 1343.18L245.18 1342.81L245.67 1342.43L246.15 1342.06L246.63 1341.69L247.11 1341.32L247.60 1340.95L248.08 1340.58L248.56 1340.20L249.05 1339.83L249.53 1339.46L250.01 1339.09L250.50 1338.72L250.98 1338.35L251.46 1337.97L251.95 1337.60L252.43 1337.23L252.91 1336.86L253.40 1336.49L253.88 1336.12L254.36 1335.75L254.84 1335.37L255.33 1335.00L255.81 1334.63L256.29 1334.26L256.78 1333.89L257.26 1333.52L257.74 1333.14L258.23 1332.77L258.71 1332.40L259.19 1332.03L259.68 1331.66L260.16 1331.29L260.64 1330.91L261.13 1330.54L261.61 1330.17L262.09 1329.80L262.57 1329.43L263.06 1329.06L263.54 1328.68L264.02 1328.31L264.51 1327.94L264.99 1327.57L265.47 1327.20L265.96 1326.83L266.44 1326.46L266.92 1326.08L267.41 1325.71L267.89 1325.34L268.37 1324.97L268.86 1324.60L269.34 1324.23L269.82 1323.85L270.31 1323.48L270.79 1323.11L271.27 1322.74L271.75 1322.37L272.24 1322.00L272.72 1321.62L273.20 1321.25L273.69 1320.88L274.17 1320.51L274.65 1320.14L275.14 1319.77L275.62 1319.40L276.10 1319.02L276.59 1318.65L277.07 1318.28L277.55 1317.91L278.04 1317.54L278.52 1317.17L279.00 1316.80L279.49 1316.42L279.97 1316.05L280.45 1315.68L280.93 1315.31L281.42 1314.94L281.90 1314.57L282.38 1314.19L282.87 1313.82L283.35 1313.45L283.83 1313.08L284.32 1312.71L284.80 1312.34L285.28 1311.97L285.77 1311.59L286.25 1311.22L286.73 1310.85L287.22 1310.48L287.70 1310.11L288.18 1309.74L288.67 1309.37L289.15 1308.99L289.63 1308.62L290.12 1308.25L290.60 1307.88L291.08 1307.51L291.56 1307.14L292.05 1306.76L292.53 1306.39L293.01 1306.02L293.50 1305.65L293.98 1305.28L294.46 1304.91L294.95 1304.54L295.43 1304.16L295.91 1303.79L296.40 1303.42L296.88 1303.05L297.36 1302.68L297.85 1302.31L298.33 1301.94L298.81 1301.56L299.30 1301.19L299.78 1300.82L300.26 1300.45L300.75 1300.08L301.23 1299.71L301.71 1299.34L302.19 1298.96L302.68 1298.59L303.16 1298.22L303.64 1297.85L304.13 1297.48L304.61 1297.11L305.09 1296.74L305.58 1296.36L306.06 1295.99L306.54 1295.62L307.03 1295.25L307.51 1294.88L307.99 1294.51L308.48 1294.14L308.96 1293.76L309.44 1293.39L309.93 1293.02L310.41 1292.65L310.89 1292.28L311.38 1291.91L311.86 1291.54L312.34 1291.17L312.83 1290.79L313.31 1290.42L313.79 1290.05L314.27 1289.68L314.76 1289.31L315.24 1288.94L315.72 1288.57L316.21 1288.19L316.69 1287.82L317.17 1287.45L317.66 1287.08L318.14 1286.71L318.62 1286.34L319.11 1285.97L319.59 1285.59L320.07 1285.22L320.56 1284.85L321.04 1284.48L321.52 1284.11L322.01 1283.74L322.49 1283.37L322.97 1283.00L323.46 1282.62L323.94 1282.25L324.42 1281.88L324.91 1281.51L325.39 1281.14L325.87 1280.77L326.36 1280.40L326.84 1280.02L327.32 1279.65L327.81 1279.28L328.29 1278.91L328.77 1278.54L329.25 1278.17L329.74 1277.80L330.22 1277.42L330.70 1277.05L331.19 1276.68L331.67 1276.31L332.15 1275.94L332.64 1275.57L333.12 1275.20L333.60 1274.83L334.09 1274.45L334.57 1274.08L335.05 1273.71L335.54 1273.34L336.02 1272.97L336.50 1272.60L336.99 1272.23L337.47 1271.86L337.95 1271.48L338.44 1271.11L338.92 1270.74L339.40 1270.37L339.89 1270.00L340.37 1269.63L340.85 1269.26L341.34 1268.88L341.82 1268.51L342.30 1268.14L342.79 1267.77L343.27 1267.40L343.75 1267.03L344.24 1266.66L344.72 1266.29L345.20 1265.91L345.69 1265.54L346.17 1265.17L346.65 1264.80L347.13 1264.43L347.62 1264.06L348.10 1263.69L348.58 1263.32L349.07 1262.94L349.55 1262.57L350.03 1262.20L350.52 1261.83L351.00 1261.46L351.48 1261.09L351.97 1260.72L352.45 1260.35L352.93 1259.97L353.42 1259.60L353.90 1259.23L354.38 1258.86L354.87 1258.49L355.35 1258.12L355.83 1257.75L356.32 1257.38L356.80 1257.00L357.28 1256.63L357.77 1256.26L358.25 1255.89L358.73 1255.52L359.22 1255.15L359.70 1254.78L360.18 1254.41L360.67 1254.03L361.15 1253.66L361.63 1253.29L362.12 1252.92L362.60 1252.55L363.08 1252.18L363.57 1251.81L364.05 1251.44L364.53 1251.06L365.02 1250.69L365.50 1250.32L365.98 1249.95L366.47 1249.58L366.95 1249.21L367.43 1248.84L367.92 1248.47L368.40 1248.09L368.88 1247.72L369.37 1247.35L369.85 1246.98L370.33 1246.61L370.81 1246.24L371.30 1245.87L371.78 1245.50L372.26 1245.13L372.75 1244.75L373.23 1244.38L373.71 1244.01L374.20 1243.64L374.68 1243.27L375.16 1242.90L375.65 1242.53L376.13 1242.16L376.61 1241.78L377.10 1241.41L377.58 1241.04L378.06 1240.67L378.55 1240.30L379.03 1239.93L379.51 1239.56L380.00 1239.19L380.48 1238.82L380.96 1238.44L381.45 1238.07L381.93 1237.70L382.41 1237.33L382.90 1236.96L383.38 1236.59L383.86 1236.22L384.35 1235.85L384.83 1235.47L385.31 1235.10L385.80 1234.73L386.28 1234.36L386.76 1233.99L387.25 1233.62L387.73 1233.25L388.21 1232.88L388.70 1232.51L389.18 1232.13L389.66 1231.76L390.15 1231.39L390.63 1231.02L391.11 1230.65L391.60 1230.28L392.08 1229.91L392.56 1229.54L393.05 1229.16L393.53 1228.79L394.01 1228.42L394.50 1228.05L394.98 1227.68L395.46 1227.31L395.95 1226.94L396.43 1226.57L396.91 1226.20L397.40 1225.82L397.88 1225.45L398.36 1225.08L398.85 1224.71L399.33 1224.34L399.81 1223.97L400.30 1223.60L400.78 1223.23L401.26 1222.86L401.75 1222.48L402.23 1222.11L402.71 1221.74L403.20 1221.37L403.68 1221.00L404.16 1220.63L404.65 1220.26L405.13 1219.89L405.61 1219.52L406.10 1219.14L406.58 1218.77L407.06 1218.40L407.55 1218.03L408.03 1217.66L408.51 1217.29L409.00 1216.92L409.48 1216.55L409.96 1216.18L410.45 1215.80L410.93 1215.43L411.41 1215.06L411.90 1214.69L412.38 1214.32L412.86 1213.95L413.35 1213.58L413.83 1213.21L414.31 1212.84L414.80 1212.46L415.28 1212.09L415.76 1211.72L416.25 1211.35L416.73 1210.98L417.21 1210.61L417.70 1210.24L418.18 1209.87L418.66 1209.50L419.15 1209.12L419.63 1208.75L420.11 1208.38L420.60 1208.01L421.08 1207.64L421.56 1207.27L422.05 1206.90L422.53 1206.53L423.01 1206.16L423.50 1205.78L423.98 1205.41L424.46 1205.04L424.95 1204.67L425.43 1204.30L425.91 1203.93L426.40 1203.56L426.88 1203.19L427.36 1202.82L427.85 1202.44L428.33 1202.07L428.81 1201.70L429.30 1201.33L429.78 1200.96L430.26 1200.59L430.75 1200.22L431.23 1199.85L431.71 1199.48L432.20 1199.10L432.68 1198.73L433.16 1198.36L433.65 1197.99L434.13 1197.62L434.61 1197.25L435.10 1196.88L435.58 1196.51L436.06 1196.14L436.55 1195.77L437.03 1195.39L437.51 1195.02L438.00 1194.65L438.48 1194.28L438.96 1193.91L439.45 1193.54L439.93 1193.17L440.41 1192.80L440.90 1192.43L441.38 1192.05L441.86 1191.68L442.35 1191.31L442.83 1190.94L443.31 1190.57L443.80 1190.20L444.28 1189.83L444.76 1189.46L445.25 1189.09L445.73 1188.71L446.21 1188.34L446.70 1187.97L447.18 1187.60L447.66 1187.23L448.15 1186.86L448.63 1186.49L449.11 1186.12L449.60 1185.75L450.08 1185.38L450.56 1185.00L451.05 1184.63L451.53 1184.26L452.01 1183.89L452.50 1183.52L452.98 1183.15L453.46 1182.78L453.95 1182.41L454.43 1182.04L454.91 1181.66L455.40 1181.29L455.88 1180.92L456.36 1180.55L456.85 1180.18L457.33 1179.81L457.81 1179.44L458.30 1179.07L458.78 1178.70L459.26 1178.33L459.75 1177.95L460.23 1177.58L460.71 1177.21L461.20 1176.84L461.68 1176.47L462.16 1176.10L462.65 1175.73L463.13 1175.36L463.61 1174.99L464.10 1174.62L464.58 1174.24L465.06 1173.87L465.55 1173.50L466.03 1173.13L466.51 1172.76L467.00 1172.39L467.48 1172.02L467.96 1171.65L468.45 1171.28L468.93 1170.90L469.41 1170.53L469.90 1170.16L470.38 1169.79L470.86 1169.42L471.35 1169.05L471.83 1168.68L472.31 1168.31L472.80 1167.94L473.28 1167.57L473.76 1167.19L474.25 1166.82L474.73 1166.45L475.21 1166.08L475.70 1165.71L476.18 1165.34L476.66 1164.97L477.15 1164.60L477.63 1164.23L478.11 1163.86L478.60 1163.48L479.08 1163.11L479.56 1162.74L480.05 1162.37L480.53 1162.00L481.01 1161.63L481.50 1161.26L481.98 1160.89L482.46 1160.52L482.95 1160.15L483.43 1159.77L483.91 1159.40L484.40 1159.03L484.88 1158.66L485.36 1158.29L485.85 1157.92L486.33 1157.55L486.81 1157.18L487.30 1156.81L487.78 1156.43L488.26 1156.06L488.75 1155.69L489.23 1155.32L489.71 1154.95L490.20 1154.58L490.68 1154.21L491.17 1153.84L491.65 1153.47L492.13 1153.10L492.62 1152.72L493.10 1152.35L493.58 1151.98L494.07 1151.61L494.55 1151.24L495.03 1150.87L495.52 1150.50L496.00 1150.13L496.48 1149.76L496.97 1149.39L497.45 1149.01L497.93 1148.64L498.42 1148.27L498.90 1147.90L499.38 1147.53L499.87 1147.16L500.35 1146.79L500.83 1146.42L501.32 1146.05L501.80 1145.68L502.28 1145.30L502.77 1144.93L503.25 1144.56L503.73 1144.19L504.22 1143.82L504.70 1143.45L505.18 1143.08L505.67 1142.71L506.15 1142.34L506.63 1141.97L507.12 1141.59L507.60 1141.22L508.08 1140.85L508.57 1140.48L509.05 1140.11L509.53 1139.74L510.02 1139.37L510.50 1139.00L510.98 1138.63L511.47 1138.26L511.95 1137.88L512.43 1137.51L512.92 1137.14L513.40 1136.77L513.88 1136.40L514.37 1136.03L514.85 1135.66L515.33 1135.29L515.82 1134.92L516.30 1134.55L516.78 1134.17L517.27 1133.80L517.75 1133.43L518.23 1133.06L518.72 1132.69L519.20 1132.32L519.68 1131.95L520.17 1131.58L520.65 1131.21L521.14 1130.84L521.62 1130.46L522.10 1130.09L522.59 1129.72L523.07 1129.35L523.55 1128.98L524.04 1128.61L524.52 1128.24L525.00 1127.87L525.49 1127.50L525.97 1127.13L526.45 1126.75L526.94 1126.38L527.42 1126.01L527.90 1125.64L528.39 1125.27L528.87 1124.90L529.35 1124.53L529.84 1124.16L530.32 1123.79L530.80 1123.42L531.29 1123.04L531.77 1122.67L532.25 1122.30L532.74 1121.93L533.22 1121.56L533.70 1121.19L534.19 1120.82L534.67 1120.45L535.15 1120.08L535.64 1119.71L536.12 1119.33L536.60 1118.96L537.09 1118.59L537.57 1118.22L538.05 1117.85L538.54 1117.48L539.02 1117.11L539.50 1116.74L539.99 1116.37L540.47 1116.00L540.95 1115.62L541.44 1115.25L541.92 1114.88L542.40 1114.51L542.89 1114.14L543.37 1113.77L543.85 1113.40L544.34 1113.03L544.82 1112.66L545.30 1112.29L545.79 1111.91L546.27 1111.54L546.76 1111.17L547.24 1110.80L547.72 1110.43L548.21 1110.06L548.69 1109.69L549.17 1109.32L549.66 1108.95L550.14 1108.58L550.62 1108.20L551.11 1107.83L551.59 1107.46L552.07 1107.09L552.56 1106.72L553.04 1106.35L553.52 1105.98L554.01 1105.61L554.49 1105.24L554.97 1104.87L555.46 1104.49L555.94 1104.12L556.42 1103.75L556.91 1103.38L557.39 1103.01L557.87 1102.64L558.36 1102.27L558.84 1101.90L559.32 1101.53L559.81 1101.16L560.29 1100.78L560.77 1100.41L561.26 1100.04L561.74 1099.67L562.22 1099.30L562.71 1098.93L563.19 1098.56L563.67 1098.19L564.16 1097.82L564.64 1097.44L565.12 1097.07L565.61 1096.70L566.09 1096.33L566.57 1095.96L567.06 1095.59L567.54 1095.22L568.03 1094.85L568.51 1094.48L568.99 1094.11L569.48 1093.73L569.96 1093.36L570.44 1092.99L570.93 1092.62L571.41 1092.25L571.89 1091.88L572.38 1091.51L572.86 1091.14L573.34 1090.77L573.83 1090.40L574.31 1090.02L574.79 1089.65L575.28 1089.28L575.76 1088.91L576.24 1088.54L576.73 1088.17L577.21 1087.80L577.69 1087.43L578.18 1087.06L578.66 1086.69L579.14 1086.31L579.63 1085.94L580.11 1085.57L580.59 1085.20L581.08 1084.83L581.56 1084.46L582.04 1084.09L582.53 1083.72L583.01 1083.35L583.49 1082.98L583.98 1082.60L584.46 1082.23L584.94 1081.86L585.43 1081.49L585.91 1081.12L586.39 1080.75L586.88 1080.38L587.36 1080.01L587.85 1079.64L588.33 1079.26L588.81 1078.89L589.30 1078.52L589.78 1078.15L590.26 1077.78L590.75 1077.41L591.23 1077.04L591.71 1076.67L592.20 1076.30L592.68 1075.93L593.16 1075.55L593.65 1075.18L594.13 1074.81L594.61 1074.44L595.10 1074.07L595.58 1073.70L596.06 1073.33L596.55 1072.96L597.03 1072.59L597.51 1072.22L598.00 1071.84L598.48 1071.47L598.96 1071.10L599.45 1070.73L599.93 1070.36L600.41 1069.99L600.90 1069.62L601.38 1069.25L601.86 1068.88L602.35 1068.50L602.83 1068.13L603.31 1067.76L603.80 1067.39L604.28 1067.02L604.76 1066.65L605.25 1066.28L605.73 1065.91L606.21 1065.54L606.70 1065.17L607.18 1064.79L607.67 1064.42L608.15 1064.05L608.63 1063.68L609.12 1063.31L609.60 1062.94L610.08 1062.57L610.57 1062.20L611.05 1061.83L611.53 1061.45L612.02 1061.08L612.50 1060.71L612.98 1060.34L613.47 1059.97L613.95 1059.60L614.43 1059.23L614.92 1058.86L615.40 1058.49L615.88 1058.11L616.37 1057.74L616.85 1057.37L617.33 1057.00L617.82 1056.63L618.30 1056.26L618.78 1055.89L619.27 1055.52L619.75 1055.15L620.23 1054.78L620.72 1054.40L621.20 1054.03L621.68 1053.66L622.17 1053.29L622.65 1052.92L623.13 1052.55L623.62 1052.18L624.10 1051.81L624.58 1051.44L625.07 1051.06L625.55 1050.69L626.04 1050.32L626.52 1049.95L627.00 1049.58L627.49 1049.21L627.97 1048.84L628.45 1048.47L628.94 1048.10L629.42 1047.72L629.90 1047.35L630.39 1046.98L630.87 1046.61L631.35 1046.24L631.84 1045.87L632.32 1045.50L632.80 1045.13L633.29 1044.76L633.77 1044.38L634.25 1044.01L634.74 1043.64L635.22 1043.27L635.70 1042.90L636.19 1042.53L636.67 1042.16L637.15 1041.79L637.64 1041.42L638.12 1041.04L638.60 1040.67L639.09 1040.30L639.57 1039.93L640.05 1039.56L640.54 1039.19L641.02 1038.82L641.50 1038.45L641.99 1038.08L642.47 1037.70L642.95 1037.33L643.44 1036.96L643.92 1036.59L644.41 1036.22L644.89 1035.85L645.37 1035.48L645.86 1035.11L646.34 1034.74L646.82 1034.36L647.31 1033.99L647.79 1033.62L648.27 1033.25L648.76 1032.88L649.24 1032.51L649.72 1032.14L650.21 1031.77L650.69 1031.40L651.17 1031.02L651.66 1030.65L652.14 1030.28L652.62 1029.91L653.11 1029.54L653.59 1029.17L654.07 1028.80L654.56 1028.43L655.04 1028.06L655.52 1027.68L656.01 1027.31L656.49 1026.94L656.97 1026.57L657.46 1026.20L657.94 1025.83L658.42 1025.46L658.91 1025.09L659.39 1024.72L659.87 1024.34L660.36 1023.97L660.84 1023.60L661.32 1023.23L661.81 1022.86L662.29 1022.49L662.77 1022.12L663.26 1021.75L663.74 1021.37L664.23 1021.00L664.71 1020.63L665.19 1020.26L665.68 1019.89L666.16 1019.52L666.64 1019.15L667.13 1018.78L667.61 1018.41L668.09 1018.03L668.58 1017.66L669.06 1017.29L669.54 1016.92L670.03 1016.55L670.51 1016.18L670.99 1015.81L671.48 1015.44L671.96 1015.06L672.44 1014.69L672.93 1014.32L673.41 1013.95L673.89 1013.58L674.38 1013.21L674.86 1012.84L675.34 1012.47L675.83 1012.10L676.31 1011.72L676.79 1011.35L677.28 1010.98L677.76 1010.61L678.24 1010.24L678.73 1009.87L679.21 1009.50L679.69 1009.13L680.18 1008.75L680.66 1008.38L681.14 1008.01L681.63 1007.64L682.11 1007.27L682.60 1006.90L683.08 1006.53L683.56 1006.16L684.05 1005.79L684.53 1005.41L685.01 1005.04L685.50 1004.67L685.98 1004.30L686.46 1003.93L686.95 1003.56L687.43 1003.19L687.91 1002.82L688.40 1002.44L688.88 1002.07L689.36 1001.70L689.85 1001.33L690.33 1000.96L690.81 1000.59L691.30 1000.22L691.78 999.85L692.26 999.47L692.75 999.10L693.23 998.73L693.71 998.36L694.20 997.99L694.68 997.62L695.16 997.25L695.65 996.88L696.13 996.50L696.61 996.13L697.10 995.76L697.58 995.39L698.06 995.02L698.55 994.65L699.03 994.28L699.51 993.91L700.00 993.53L700.48 993.16L700.96 992.79L701.45 992.42L701.93 992.05L702.42 991.68L702.90 991.31L703.38 990.94L703.87 990.56L704.35 990.19L704.83 989.82L705.32 989.45L705.80 989.08L706.28 988.71L706.77 988.34L707.25 987.97L707.73 987.59L708.22 987.22L708.70 986.85L709.18 986.48L709.67 986.11L710.15 985.74L710.63 985.37L711.12 985.00L711.60 984.62L712.08 984.25L712.57 983.88L713.05 983.51L713.53 983.14L714.02 982.77L714.50 982.40L714.98 982.02L715.47 981.65L715.95 981.28L716.43 980.91L716.92 980.54L717.40 980.17L717.88 979.80L718.37 979.43L718.85 979.05L719.33 978.68L719.82 978.31L720.30 977.94L720.78 977.57L721.27 977.20L721.75 976.83L722.23 976.46L722.72 976.08L723.20 975.71L723.68 975.34L724.17 974.97L724.65 974.60L725.14 974.23L725.62 973.86L726.10 973.48L726.59 973.11L727.07 972.74L727.55 972.37L728.04 972.00L728.52 971.63L729.00 971.26L729.49 970.89L729.97 970.51L730.45 970.14" stroke="#ed1c24"/>
</g>
<g transform="translate(115.10 662.10) scale(0.8809 1)"><text x="0.00" y="0" font-size="34.3" font-family="Liberation Sans, sans-serif" fill="#231f20">0</text></g>
<g transform="translate(115.10 1441.60) scale(0.8370 1)"><text x="0.00" y="0" font-size="36.1" font-family="Liberation Sans, sans-serif" fill="#231f20">0</text></g>
<g transform="translate(81.50 573.63) scale(0.8809 1)"><text x="0.00" y="0" font-size="34.3" font-family="Liberation Sans, sans-serif" fill="#231f20">2</text><text x="19.07" y="0" font-size="34.3" font-family="Liberation Sans, sans-serif" fill="#231f20">0</text><text x="38.14" y="0" font-size="34.3" font-family="Liberation Sans, sans-serif" fill="#231f20">0</text></g>
<g transform="translate(81.50 1351.36) scale(0.8370 1)"><text x="0.00" y="0" font-size="36.1" font-family="Liberation Sans, sans-serif" fill="#231f20">2</text><text x="20.07" y="0" font-size="36.1" font-family="Liberation Sans, sans-serif" fill="#231f20">0</text><text x="40.14" y="0" font-size="36.1" font-family="Liberation Sans, sans-serif" fill="#231f20">0</text></g>
<g transform="translate(81.50 485.17) scale(0.8809 1)"><text x="0.00" y="0" font-size="34.3" font-family="Liberation Sans, sans-serif" fill="#231f20">4</text><text x="19.07" y="0" font-size="34.3" font-family="Liberation Sans, sans-serif" fill="#231f20">0</text><text x="38.14" y="0" font-size="34.3" font-family="Liberation Sans, sans-serif" fill="#231f20">0</text></g>
<g transform="translate(81.50 1261.12) scale(0.8370 1)"><text x="0.00" y="0" font-size="36.1" font-family="Liberation Sans, sans-serif" fill="#231f20">4</text><text x="20.07" y="0" font-size="36.1" font-family="Liberation Sans, sans-serif" fill="#231f20">0</text><text x="40.14" y="0" font-size="36.1" font-family="Liberation Sans, sans-serif" fill="#231f20">0</text></g>
<g transform="translate(81.50 396.70) scale(0.8809 1)"><text x="0.00" y="0" font-size="34.3" font-family="Liberation Sans, sans-serif" fill="#231f20">6</text><text x="19.07" y="0" font-size="34.3" font-family="Liberation Sans, sans-serif" fill="#231f20">0</text><text x="38.14" y="0" font-size="34.3" font-family="Liberation Sans, sans-serif" fill="#231f20">0</text></g>
<g transform="translate(81.50 1170.88) scale(0.8370 1)"><text x="0.00" y="0" font-size="36.1" font-family="Liberation Sans, sans-serif" fill="#231f20">6</text><text x="20.07" y="0" font-size="36.1" font-family="Liberation Sans, sans-serif" fill="#231f20">0</text><text x="40.14" y="0" font-size="36.1" font-family="Liberation Sans, sans-serif" fill="#231f20">0</text></g>
<g transform="translate(81.50 308.23) scale(0.8809 1)"><text x="0.00" y="0" font-size="34.3" font-family="Liberation Sans, sans-serif" fill="#231f20">8</text><text x="19.07" y="0" font-size="34.3" font-family="Liberation Sans, sans-serif" fill="#231f20">0</text><text x="38.14" y="0" font-size="34.3" font-family="Liberation Sans, sans-serif" fill="#231f20">0</text></g>
<g transform="translate(81.50 1080.64) scale(0.8370 1)"><text x="0.00" y="0" font-size="36.1" font-family="Liberation Sans, sans-serif" fill="#231f20">8</text><text x="20.07" y="0" font-size="36.1" font-family="Liberation Sans, sans-serif" fill="#231f20">0</text><text x="40.14" y="0" font-size="36.1" font-family="Liberation Sans, sans-serif" fill="#231f20">0</text></g>
<g transform="translate(64.70 219.77) scale(0.8809 1)"><path transform="translate(0.00 0) scale(34.3)" d="M0.27 0H0.365V-0.72H0.29C0.272 -0.665 0.225 -0.625 0.11 -0.618V-0.535H0.27Z" fill="#231f20"/><text x="19.07" y="0" font-size="34.3" font-family="Liberation Sans, sans-serif" fill="#231f20">0</text><text x="38.14" y="0" font-size="34.3" font-family="Liberation Sans, sans-serif" fill="#231f20">0</text><text x="57.21" y="0" font-size="34.3" font-family="Liberation Sans, sans-serif" fill="#231f20">0</text></g>
<g transform="translate(64.70 990.40) scale(0.8370 1)"><path transform="translate(0.00 0) scale(36.1)" d="M0.27 0H0.365V-0.72H0.29C0.272 -0.665 0.225 -0.625 0.11 -0.618V-0.535H0.27Z" fill="#231f20"/><text x="20.07" y="0" font-size="36.1" font-family="Liberation Sans, sans-serif" fill="#231f20">0</text><text x="40.14" y="0" font-size="36.1" font-family="Liberation Sans, sans-serif" fill="#231f20">0</text><text x="60.21" y="0" font-size="36.1" font-family="Liberation Sans, sans-serif" fill="#231f20">0</text></g>
<g transform="translate(64.70 131.30) scale(0.8809 1)"><path transform="translate(0.00 0) scale(34.3)" d="M0.27 0H0.365V-0.72H0.29C0.272 -0.665 0.225 -0.625 0.11 -0.618V-0.535H0.27Z" fill="#231f20"/><text x="19.07" y="0" font-size="34.3" font-family="Liberation Sans, sans-serif" fill="#231f20">2</text><text x="38.14" y="0" font-size="34.3" font-family="Liberation Sans, sans-serif" fill="#231f20">0</text><text x="57.21" y="0" font-size="34.3" font-family="Liberation Sans, sans-serif" fill="#231f20">0</text></g>
<g transform="translate(64.70 900.16) scale(0.8370 1)"><path transform="translate(0.00 0) scale(36.1)" d="M0.27 0H0.365V-0.72H0.29C0.272 -0.665 0.225 -0.625 0.11 -0.618V-0.535H0.27Z" fill="#231f20"/><text x="20.07" y="0" font-size="36.1" font-family="Liberation Sans, sans-serif" fill="#231f20">2</text><text x="40.14" y="0" font-size="36.1" font-family="Liberation Sans, sans-serif" fill="#231f20">0</text><text x="60.21" y="0" font-size="36.1" font-family="Liberation Sans, sans-serif" fill="#231f20">0</text></g>
<g transform="translate(126.10 685.00) scale(0.8809 1)"><text x="0.00" y="0" font-size="34.3" font-family="Liberation Sans, sans-serif" fill="#231f20">0</text></g>
<g transform="translate(126.10 1466.10) scale(0.8370 1)"><text x="0.00" y="0" font-size="36.1" font-family="Liberation Sans, sans-serif" fill="#231f20">0</text></g>
<g transform="translate(227.30 685.00) scale(0.8809 1)"><text x="0.00" y="0" font-size="34.3" font-family="Liberation Sans, sans-serif" fill="#231f20">2</text><text x="19.07" y="0" font-size="34.3" font-family="Liberation Sans, sans-serif" fill="#231f20">0</text><text x="38.14" y="0" font-size="34.3" font-family="Liberation Sans, sans-serif" fill="#231f20">0</text></g>
<g transform="translate(226.88 1466.10) scale(0.8370 1)"><text x="0.00" y="0" font-size="36.1" font-family="Liberation Sans, sans-serif" fill="#231f20">2</text><text x="20.07" y="0" font-size="36.1" font-family="Liberation Sans, sans-serif" fill="#231f20">0</text><text x="40.14" y="0" font-size="36.1" font-family="Liberation Sans, sans-serif" fill="#231f20">0</text></g>
<g transform="translate(345.30 685.00) scale(0.8809 1)"><text x="0.00" y="0" font-size="34.3" font-family="Liberation Sans, sans-serif" fill="#231f20">4</text><text x="19.07" y="0" font-size="34.3" font-family="Liberation Sans, sans-serif" fill="#231f20">0</text><text x="38.14" y="0" font-size="34.3" font-family="Liberation Sans, sans-serif" fill="#231f20">0</text></g>
<g transform="translate(344.46 1466.10) scale(0.8370 1)"><text x="0.00" y="0" font-size="36.1" font-family="Liberation Sans, sans-serif" fill="#231f20">4</text><text x="20.07" y="0" font-size="36.1" font-family="Liberation Sans, sans-serif" fill="#231f20">0</text><text x="40.14" y="0" font-size="36.1" font-family="Liberation Sans, sans-serif" fill="#231f20">0</text></g>
<g transform="translate(463.30 685.00) scale(0.8809 1)"><text x="0.00" y="0" font-size="34.3" font-family="Liberation Sans, sans-serif" fill="#231f20">6</text><text x="19.07" y="0" font-size="34.3" font-family="Liberation Sans, sans-serif" fill="#231f20">0</text><text x="38.14" y="0" font-size="34.3" font-family="Liberation Sans, sans-serif" fill="#231f20">0</text></g>
<g transform="translate(462.04 1466.10) scale(0.8370 1)"><text x="0.00" y="0" font-size="36.1" font-family="Liberation Sans, sans-serif" fill="#231f20">6</text><text x="20.07" y="0" font-size="36.1" font-family="Liberation Sans, sans-serif" fill="#231f20">0</text><text x="40.14" y="0" font-size="36.1" font-family="Liberation Sans, sans-serif" fill="#231f20">0</text></g>
<g transform="translate(581.30 685.00) scale(0.8809 1)"><text x="0.00" y="0" font-size="34.3" font-family="Liberation Sans, sans-serif" fill="#231f20">8</text><text x="19.07" y="0" font-size="34.3" font-family="Liberation Sans, sans-serif" fill="#231f20">0</text><text x="38.14" y="0" font-size="34.3" font-family="Liberation Sans, sans-serif" fill="#231f20">0</text></g>
<g transform="translate(579.62 1466.10) scale(0.8370 1)"><text x="0.00" y="0" font-size="36.1" font-family="Liberation Sans, sans-serif" fill="#231f20">8</text><text x="20.07" y="0" font-size="36.1" font-family="Liberation Sans, sans-serif" fill="#231f20">0</text><text x="40.14" y="0" font-size="36.1" font-family="Liberation Sans, sans-serif" fill="#231f20">0</text></g>
<g transform="translate(690.90 685.00) scale(0.8809 1)"><path transform="translate(0.00 0) scale(34.3)" d="M0.27 0H0.365V-0.72H0.29C0.272 -0.665 0.225 -0.625 0.11 -0.618V-0.535H0.27Z" fill="#231f20"/><text x="19.07" y="0" font-size="34.3" font-family="Liberation Sans, sans-serif" fill="#231f20">0</text><text x="38.14" y="0" font-size="34.3" font-family="Liberation Sans, sans-serif" fill="#231f20">0</text><text x="57.21" y="0" font-size="34.3" font-family="Liberation Sans, sans-serif" fill="#231f20">0</text></g>
<g transform="translate(688.80 1466.10) scale(0.8370 1)"><path transform="translate(0.00 0) scale(36.1)" d="M0.27 0H0.365V-0.72H0.29C0.272 -0.665 0.225 -0.625 0.11 -0.618V-0.535H0.27Z" fill="#231f20"/><text x="20.07" y="0" font-size="36.1" font-family="Liberation Sans, sans-serif" fill="#231f20">0</text><text x="40.14" y="0" font-size="36.1" font-family="Liberation Sans, sans-serif" fill="#231f20">0</text><text x="60.21" y="0" font-size="36.1" font-family="Liberation Sans, sans-serif" fill="#231f20">0</text></g>
<text x="265" y="750.1" font-family="Liberation Sans, sans-serif" font-size="33" fill="#231f20" textLength="234.5" lengthAdjust="spacingAndGlyphs">Total [Clb5]; nM</text>
<text x="265" y="1537.7" font-family="Liberation Sans, sans-serif" font-size="33" fill="#231f20" textLength="234.5" lengthAdjust="spacingAndGlyphs">Total [Clb5]; nM</text>
<text transform="translate(30 479.6) rotate(-90)" font-family="Liberation Sans, sans-serif" font-size="33" fill="#231f20" textLength="227" lengthAdjust="spacingAndGlyphs">Total [Sic1]; nM</text>
<text transform="translate(32 1280) rotate(-90)" font-family="Liberation Sans, sans-serif" font-size="33" fill="#231f20" textLength="309.5" lengthAdjust="spacingAndGlyphs">Free [Clb5-Cdk1]; nM</text>
<text x="4.6" y="50.6" font-family="Liberation Sans, sans-serif" font-weight="bold" fill="#231f20" font-size="34.3" textLength="24.6" lengthAdjust="spacingAndGlyphs">A</text>
<text x="6.3" y="849.7" font-family="Liberation Sans, sans-serif" font-weight="bold" fill="#231f20" font-size="34" textLength="26.2" lengthAdjust="spacingAndGlyphs">B</text>
<text x="131.5" y="23.7" font-size="28" font-family="Liberation Sans, sans-serif" fill="#231f20">k</text>
<text x="144.2" y="33.6" font-size="16.5" font-family="Liberation Sans, sans-serif" fill="#231f20" textLength="31.5" lengthAdjust="spacingAndGlyphs">Clb5</text>
<rect x="177.8" y="12.1" width="14.5" height="2.1" fill="#231f20"/><rect x="177.8" y="18.1" width="14.5" height="2.1" fill="#231f20"/>
<rect x="137" y="55.5" width="56.0" height="7.4" fill="#ed1c24"/>
<rect x="276.5" y="55.5" width="53.2" height="7.4" fill="#457a5d"/>
<rect x="430.9" y="55.5" width="58.0" height="7.4" fill="#2e3192"/>
<rect x="203" y="58.2" width="9.9" height="3" fill="#231f20"/>
<rect x="342.2" y="58.2" width="9.3" height="3" fill="#231f20"/>
<rect x="500" y="58.2" width="9.6" height="3" fill="#231f20"/>
<text x="223.5" y="68.6" font-size="26" font-family="Liberation Sans, sans-serif" fill="#231f20" textLength="42" lengthAdjust="spacingAndGlyphs">0.1;</text>
<text x="362.5" y="68.6" font-size="26" font-family="Liberation Sans, sans-serif" fill="#231f20" textLength="57" lengthAdjust="spacingAndGlyphs">0.01;</text>
<text x="520.3" y="68.6" font-size="26" font-family="Liberation Sans, sans-serif" fill="#231f20" textLength="62.5" lengthAdjust="spacingAndGlyphs">0.001</text>
<text x="592" y="68.6" font-size="26" font-family="Liberation Sans, sans-serif" fill="#231f20" textLength="39.5" lengthAdjust="spacingAndGlyphs">nM</text>
<rect x="631.2" y="54" width="4.7" height="1.6" fill="#231f20"/>
<text x="635.5" y="59.5" font-size="14" font-family="Liberation Sans, sans-serif" fill="#231f20" textLength="7" lengthAdjust="spacingAndGlyphs">1</text>
<path d="M652.3 54L665.7 67.6M665.7 54L652.3 67.6" stroke="#231f20" stroke-width="1.7" fill="none"/>
<text x="673.5" y="68.6" font-size="26" font-family="Liberation Sans, sans-serif" fill="#231f20" textLength="46" lengthAdjust="spacingAndGlyphs">min</text>
<rect x="720.7" y="54.8" width="3.7" height="1.6" fill="#231f20"/>
<text x="724.6" y="59.5" font-size="14" font-family="Liberation Sans, sans-serif" fill="#231f20" textLength="7" lengthAdjust="spacingAndGlyphs">1</text>
</svg>
</body></html>
